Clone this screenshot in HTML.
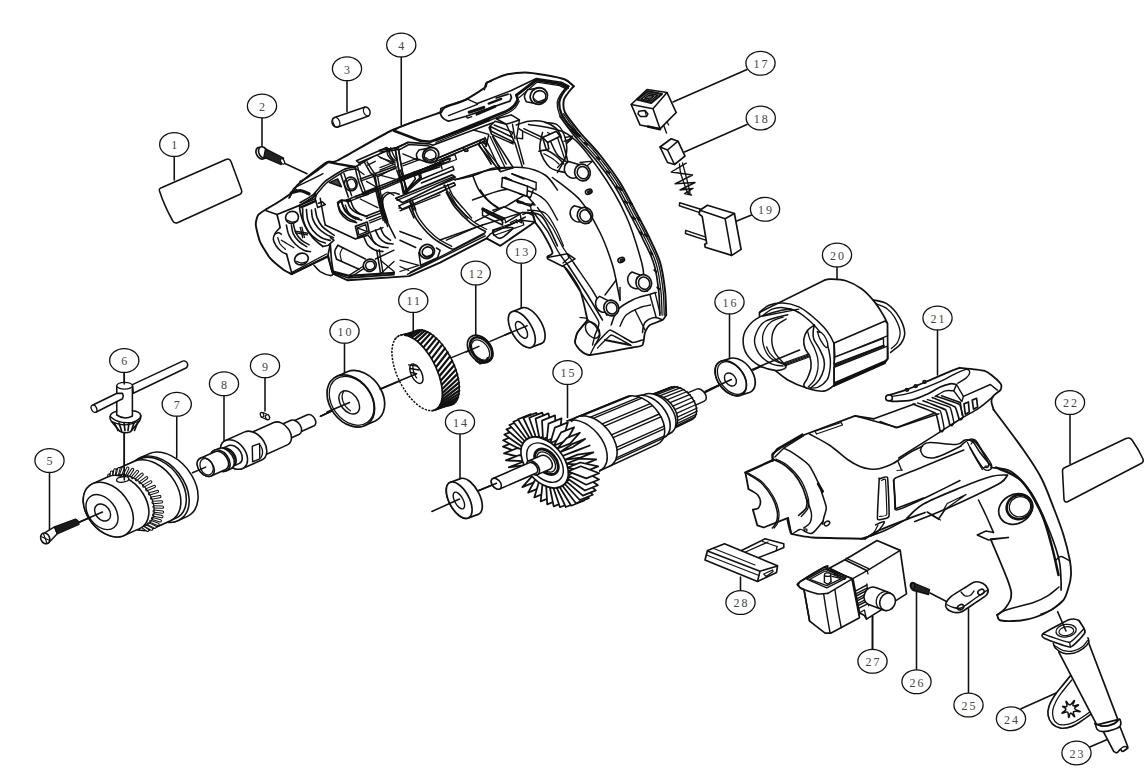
<!DOCTYPE html><html><head><meta charset="utf-8"><title>Exploded view</title>
<style>html,body{margin:0;padding:0;background:#fff}svg{display:block}text{font-family:"Liberation Serif",serif;font-size:12px;fill:#444;stroke:none;letter-spacing:2px}</style></head><body>
<svg width="1148" height="784" viewBox="0 0 1148 784" fill="none" stroke="#111" stroke-linecap="round" stroke-linejoin="round">
<rect x="0" y="0" width="1148" height="784" fill="#fff" stroke="none"/>
<line x1="174.25" y1="156.5" x2="174.25" y2="180" stroke-width="1.56"/>
<line x1="262" y1="118" x2="262" y2="148" stroke-width="1.56"/>
<line x1="347" y1="81" x2="347" y2="111.5" stroke-width="1.56"/>
<line x1="401.25" y1="57" x2="401.25" y2="125" stroke-width="1.56"/>
<line x1="49.5" y1="472.5" x2="49.5" y2="531" stroke-width="1.56"/>
<line x1="124.25" y1="372.5" x2="124.25" y2="383" stroke-width="1.56"/>
<line x1="124.25" y1="432.5" x2="124.25" y2="480" stroke-width="1.56"/>
<line x1="176.75" y1="416" x2="176.75" y2="457.5" stroke-width="1.56"/>
<line x1="224" y1="396" x2="224" y2="446" stroke-width="1.56"/>
<line x1="265" y1="378" x2="265" y2="411" stroke-width="1.56"/>
<line x1="344.5" y1="343" x2="344.5" y2="374" stroke-width="1.56"/>
<line x1="413.25" y1="312" x2="413.25" y2="334" stroke-width="1.56"/>
<line x1="475.75" y1="285" x2="475.75" y2="336" stroke-width="1.56"/>
<line x1="521.25" y1="263" x2="521.25" y2="308" stroke-width="1.56"/>
<line x1="460" y1="434" x2="460" y2="479.5" stroke-width="1.56"/>
<line x1="567.5" y1="384" x2="567.5" y2="417.5" stroke-width="1.56"/>
<line x1="729.5" y1="314" x2="729.5" y2="358.75" stroke-width="1.56"/>
<line x1="747" y1="69.5" x2="673" y2="102" stroke-width="1.56"/>
<line x1="747" y1="124.5" x2="684.5" y2="152" stroke-width="1.56"/>
<line x1="751.5" y1="215" x2="736.25" y2="221.25" stroke-width="1.56"/>
<line x1="837" y1="267" x2="837" y2="278.75" stroke-width="1.56"/>
<line x1="937.5" y1="330" x2="937.5" y2="375" stroke-width="1.56"/>
<line x1="1070" y1="414" x2="1070" y2="463.75" stroke-width="1.56"/>
<line x1="1089.75" y1="747" x2="1107.25" y2="739.5" stroke-width="1.56"/>
<line x1="1021" y1="708.75" x2="1057.25" y2="692.5" stroke-width="1.56"/>
<line x1="968.5" y1="608.75" x2="968.5" y2="693" stroke-width="1.56"/>
<line x1="916.5" y1="591" x2="916.5" y2="670" stroke-width="1.56"/>
<line x1="872.5" y1="616.25" x2="872.5" y2="649" stroke-width="1.56"/>
<line x1="740.5" y1="577" x2="740.5" y2="590.5" stroke-width="1.56"/>
<path d="M162,187.5 L226,159.5 Q229.5,158 231,161.5 L241.5,190 Q242.5,193 239.5,194.5 L178,222.5 Q174,224 172.5,220.5 Q164,205 159.5,191 Q158.5,188.5 162,187.5 Z" stroke-width="1.56" fill="none" />
<path d="M1065,467.5 L1126,438.5 Q1130,437 1132,440 Q1139,450 1143,459 Q1144,462 1141,463.5 L1068,501.5 Q1064.5,503 1064,499.5 L1062.5,471 Q1062.3,468.5 1065,467.5 Z" stroke-width="1.56" fill="none" />
<path d="M334.5,117.5 L365,107 A4.2,5 -20 0 1 368.5,116 L338,127 A4.2,5 -20 0 1 334.5,117.5 Z" stroke-width="1.43" fill="none" />
<ellipse cx="336.3" cy="122.2" rx="3.3" ry="5" transform="rotate(-20 336.3 122.2)" stroke-width="1.3" fill="none"/>
<path d="M365,107 A4.2,5 -20 0 0 368.5,116" stroke-width="1.17" fill="none" />
<ellipse cx="260.6" cy="153.2" rx="4.2" ry="6.2" transform="rotate(-28 260.6 153.2)" stroke-width="1.69" fill="#fff"/>
<ellipse cx="263.2" cy="152.6" rx="4.2" ry="6.2" transform="rotate(-28 263.2 152.6)" stroke-width="1.69" fill="#fff"/>
<path d="M265.5,148.8 L283.6,158.2 L281.2,164.6 L263.8,157.2 Z" stroke-width="1.3" fill="#222" />
<ellipse cx="282.6" cy="161.4" rx="1.7" ry="3.0" transform="rotate(-28 282.6 161.4)" stroke-width="1.17" fill="#fff"/>
<line x1="285" y1="163.5" x2="307" y2="173.75" stroke-width="1.56"/>
<path d="M45,532.6 L54.5,526.8 L57.2,533.8 L48.5,543" stroke-width="1.43" fill="#fff" />
<ellipse cx="45.2" cy="538.4" rx="4.4" ry="5.6" transform="rotate(-24 45.2 538.4)" stroke-width="1.56" fill="#fff"/>
<line x1="41.6" y1="536.8" x2="48.8" y2="540" stroke-width="1.17"/>
<line x1="43.6" y1="534" x2="46.8" y2="542.8" stroke-width="1.17"/>
<path d="M54.5,526.8 L75.5,519 Q79,520.5 79,524.5 L57.2,533.8 Z" stroke-width="1.3" fill="#1a1a1a" />
<line x1="78.5" y1="522.5" x2="102.5" y2="512" stroke-width="1.56"/>
<ellipse cx="913.5" cy="586.5" rx="2.6" ry="4" transform="rotate(-24 913.5 586.5)" stroke-width="2.08" fill="#333"/>
<path d="M915,583.5 L929.5,589.5 L928.5,594.5 L914,590.5 Z" stroke-width="1.3" fill="#222" />
<line x1="930" y1="593" x2="946.5" y2="601.5" stroke-width="1.56"/>
<path d="M263,412.5 L268.5,415 L266.5,419.5 L261,417 Z" stroke-width="1.3" fill="none" />
<ellipse cx="267.5" cy="417.2" rx="2" ry="2.6" transform="rotate(-24 267.5 417.2)" stroke-width="1.3" fill="#fff"/>
<ellipse cx="262" cy="414.8" rx="1.6" ry="2.4" transform="rotate(-24 262 414.8)" stroke-width="1.17" fill="#fff"/>
<path d="M266.6,209.0 L280.0,201.0 L293.8,191.2 L297.5,185.0 L326.2,162.5 L337.5,160.5 L392.5,130.0 L440.0,112.5 L441.2,112.5 L445.0,107.5 L465.0,100.0 L485.0,87.5 L487.5,82.5 L505.0,75.0 L525.0,72.5 L545.0,75.0 L565.0,79.5 L573.8,86.2 L573.8,86.2 L567.5,93.8 L563.8,100.0 L565.0,112.5 L580.0,132.5 L600.0,155.0 L620.0,182.5 L636.0,212.0 L649.0,237.0 L660.0,262.0 L665.0,290.0 L666.2,315.0 L666.2,315.0 L662.5,320.0 L650.0,325.0 L645.0,332.5 L642.5,345.0 L632.5,347.5 L590.0,355.0 L580.0,350.0 L575.0,342.5 L577.5,332.5 L587.5,320.0 L587.5,320.0 L580.0,290.0 L565.0,267.5 L547.5,257.5 L552.5,252.5 L542.5,232.5 L534.9,222.0 L528.0,212.6 L533.0,215.0 L534.9,222.0 L500.4,245.8 L486.6,238.3 L440.0,262.6 L409.2,276.1 L347.8,280.3 L332.9,273.6 L327.9,256.5 L291.4,274.1 L291.4,274.1 L283.2,269.5 L269.9,257.9 L259.9,241.3 L255.8,224.7 L258.3,214.8 L266.6,209.0 Z" fill="#fff" stroke="none"/>
<path d="M291.4,274.1 C290.6,273.6 285.3,271.1 283.2,269.5 C281.1,267.9 272.2,260.7 269.9,257.9 C267.6,255.1 261.3,244.6 259.9,241.3 C258.5,238.0 256.0,227.3 255.8,224.7 C255.6,222.0 257.2,216.4 258.3,214.8 C259.4,213.2 265.8,209.6 266.6,209.0 C267.4,208.4 265.3,209.8 266.6,209.0 C267.9,208.2 277.3,202.8 280.0,201.0 C282.7,199.2 292.0,192.8 293.8,191.2 C295.5,189.7 294.2,187.9 297.5,185.0 C300.8,182.1 322.2,164.9 326.2,162.5 C330.2,160.1 330.9,163.8 337.5,160.5 C344.1,157.2 382.2,134.8 392.5,130.0 C402.8,125.2 435.2,114.2 440.0,112.5" stroke-width="1.95" fill="none" />
<path d="M441.2,112.5 C441.7,111.9 442.2,109.0 445.0,107.5 C447.8,106.0 460.3,102.3 465.0,100.0 C469.7,97.7 482.4,89.5 485.0,87.5 C487.6,85.5 485.2,84.0 487.5,82.5 C489.8,81.0 500.6,76.2 505.0,75.0 C509.4,73.8 520.3,72.5 525.0,72.5 C529.7,72.5 540.3,74.2 545.0,75.0 C549.7,75.8 561.6,78.2 565.0,79.5 C568.4,80.8 572.7,85.5 573.8,86.2" stroke-width="1.95" fill="none" />
<path d="M573.8,86.2 C572.9,87.2 568.8,91.9 567.5,93.8 C566.2,95.6 564.1,97.5 563.8,100.0 C563.4,102.5 562.8,108.2 565.0,112.5 C567.2,116.8 575.3,126.8 580.0,132.5 C584.7,138.2 594.7,148.3 600.0,155.0 C605.3,161.7 615.2,174.9 620.0,182.5 C624.8,190.1 632.1,204.7 636.0,212.0 C639.9,219.3 645.8,230.3 649.0,237.0 C652.2,243.7 657.9,254.9 660.0,262.0 C662.1,269.1 664.2,282.9 665.0,290.0 C665.8,297.1 666.1,311.7 666.2,315.0" stroke-width="1.95" fill="none" />
<path d="M666.2,315.0 C665.9,315.5 664.1,319.0 662.5,320.0 C660.9,321.0 651.8,323.8 650.0,325.0 C648.2,326.2 645.8,330.5 645.0,332.5 C644.2,334.5 643.8,343.5 642.5,345.0 C641.2,346.5 637.8,346.5 632.5,347.5 C627.2,348.5 595.2,354.8 590.0,355.0 C584.8,355.2 581.5,351.2 580.0,350.0 C578.5,348.8 575.2,344.2 575.0,342.5 C574.8,340.8 576.2,334.8 577.5,332.5 C578.8,330.2 586.5,321.2 587.5,320.0" stroke-width="1.82" fill="none" />
<path d="M587.5,320.0 C586.6,316.5 582.6,296.1 580.0,290.0 C577.4,283.9 568.8,271.3 565.0,267.5 C561.2,263.7 549.0,259.2 547.5,257.5 C546.0,255.8 553.1,255.4 552.5,252.5 C551.9,249.6 544.6,236.1 542.5,232.5 C540.4,228.9 535.8,223.2 534.9,222.0" stroke-width="1.82" fill="none" />
<path d="M528.0,212.6 L533.0,215.0 L534.9,222.0 L500.4,245.8 L486.6,238.3 L440.0,262.6 L409.2,276.1 L347.8,280.3 L332.9,273.6 L327.9,256.5 L291.4,274.1" stroke-width="1.95" fill="none" />
<path d="M291.4,192.8 C292.9,192.4 297.2,190.5 300.2,190.6 C303.1,190.8 307.5,193.3 309.0,193.8" stroke-width="3.38" fill="none" />
<path d="M288.9,198.2 C289.5,197.2 291.4,193.9 292.6,192.5 C293.9,191.1 296.0,190.2 296.7,189.8" stroke-width="1.56" fill="none" />
<path d="M289.8,197.4 C290.2,196.4 292.3,189.8 293.9,188.2 C295.6,186.7 303.5,183.4 306.4,181.9 C309.3,180.5 321.3,174.5 322.9,173.6" stroke-width="1.43" fill="none" />
<path d="M266.3,210.7 L277.0,214.5 L300.2,205.1 L312.7,197.5 L315.2,193.8" stroke-width="1.69" fill="none" />
<path d="M277.0,214.5 C277.1,215.0 278.9,221.8 279.1,222.6 C279.3,223.5 280.0,227.3 280.1,227.6" stroke-width="1.69" fill="none" />
<path d="M280.1,227.6 C279.3,228.6 276.2,231.4 275.1,233.3 C274.0,235.2 273.2,237.0 273.3,238.9 C273.4,240.9 274.4,243.1 275.7,245.2 C277.1,247.3 279.5,250.0 281.4,251.5 C283.2,253.0 285.8,253.8 286.6,254.2" stroke-width="1.56" fill="none" />
<path d="M286.6,254.2 L292.0,274.1" stroke-width="1.69" fill="none" />
<path d="M292.0,274.1 L327.8,255.9 L330.3,244.2" stroke-width="1.69" fill="none" />
<path d="M292.4,272.1 L326.5,254.0" stroke-width="1.3" fill="none" />
<path d="M300.2,205.1 C300.1,205.7 299.5,207.0 299.7,208.8 C299.9,210.7 300.5,213.4 301.4,216.4 C302.3,219.3 303.3,222.8 305.2,226.4 C307.1,229.9 309.8,234.3 312.7,237.7 C315.6,241.0 321.1,245.0 322.8,246.5" stroke-width="1.69" fill="none" />
<path d="M322.8,246.5 L328.5,245.2 L334.0,240.2 L330.3,237.7" stroke-width="1.56" fill="none" />
<ellipse cx="292.0220772704466" cy="217.36327145007527" rx="6.5" ry="6.0" transform="rotate(-20 292.0220772704466 217.36327145007527)" stroke-width="1.69" fill="#fff"/>
<path d="M287.4,220.1 C288.2,220.5 290.5,222.0 292.0,222.1 C293.6,222.3 295.9,221.3 296.7,221.1" stroke-width="1.3" fill="none" />
<ellipse cx="301.4300050175615" cy="259.00903161063724" rx="6.9" ry="5.7" transform="rotate(-20 301.4300050175615 259.00903161063724)" stroke-width="1.69" fill="#fff"/>
<path d="M296.7,261.3 C297.4,261.6 299.6,262.9 301.2,263.0 C302.8,263.1 305.4,262.0 306.2,261.8" stroke-width="1.3" fill="none" />
<path d="M302.7,208.8 C302.8,210.7 302.4,216.4 303.3,220.1 C304.3,223.9 305.9,228.1 308.3,231.4 C310.7,234.8 314.9,238.3 317.7,240.2 C320.6,242.1 324.0,242.5 325.3,243.0" stroke-width="1.62" fill="none" />
<path d="M306.4,209.5 C306.7,211.2 306.7,216.7 307.7,220.1 C308.7,223.6 310.4,227.2 312.7,230.2 C315.0,233.1 318.6,236.0 321.5,237.7 C324.4,239.4 328.8,240.0 330.3,240.4" stroke-width="1.62" fill="none" />
<path d="M311.5,210.1 C311.7,211.6 311.7,215.9 312.7,218.9 C313.8,221.8 315.6,225.1 317.7,227.6 C319.8,230.2 322.7,232.2 325.3,233.9 C327.9,235.6 332.1,237.1 333.4,237.7" stroke-width="1.62" fill="none" />
<path d="M315.2,208.8 C315.5,210.3 316.0,214.7 317.1,217.6 C318.3,220.5 319.9,223.9 322.1,226.4 C324.3,228.9 328.3,231.2 330.3,232.7 C332.3,234.2 333.6,235.0 334.3,235.4" stroke-width="1.62" fill="none" />
<path d="M286.4,225.1 C286.8,226.8 287.4,232.0 288.9,235.2 C290.3,238.3 292.6,241.4 295.2,244.0 C297.7,246.5 301.4,248.9 303.9,250.2 C306.5,251.5 309.4,251.5 310.5,251.7" stroke-width="1.56" fill="none" />
<path d="M291.4,225.1 C291.7,226.6 292.0,231.2 293.3,233.9 C294.5,236.6 296.7,239.3 298.9,241.4 C301.2,243.6 305.4,245.8 306.7,246.7" stroke-width="1.56" fill="none" />
<path d="M293.4,223.9 C293.8,225.3 294.4,229.9 295.8,232.7 C297.1,235.4 299.2,238.2 301.4,240.2 C303.6,242.2 307.7,244.0 309.0,244.7" stroke-width="1.56" fill="none" />
<path d="M295.2,231.2 L307.7,233.2" stroke-width="1.43" fill="none" />
<path d="M295.4,232.9 L307.5,234.9" stroke-width="1.3" fill="none" />
<path d="M300.2,227.4 L302.7,237.7" stroke-width="1.43" fill="none" />
<path d="M301.9,227.1 L304.4,237.4" stroke-width="1.3" fill="none" />
<path d="M274.6,234.2 C275.3,233.9 277.5,232.7 278.6,232.7 C279.7,232.7 280.9,233.9 281.4,234.2" stroke-width="1.43" fill="none" />
<path d="M277.8,237.7 C278.2,238.7 278.9,242.0 280.1,244.0 C281.4,245.9 284.5,248.3 285.4,249.2" stroke-width="1.3" fill="none" />
<path d="M281.4,240.2 C282.4,240.8 285.5,242.7 287.6,244.0 C289.7,245.2 292.9,247.1 293.9,247.7" stroke-width="1.3" fill="none" />
<path d="M315.2,198.8 L317.7,207.6 L325.3,204.6 L322.3,201.8 L318.5,203.3" stroke-width="1.56" fill="none" />
<path d="M300.2,205.1 L315.2,198.8 L316.5,194.5" stroke-width="1.56" fill="none" />
<path d="M301.4,207.1 L315.2,201.1" stroke-width="2.6" fill="none" />
<path d="M320.2,198.2 C320.4,199.1 322.4,210.8 322.8,212.6 C323.1,214.4 325.1,224.3 325.3,225.1" stroke-width="1.56" fill="none" />
<path d="M325.3,225.1 L355.4,238.9 L367.9,235.2" stroke-width="1.69" fill="none" />
<path d="M337.8,203.8 C338.2,205.3 338.6,209.9 340.3,212.6 C342.0,215.3 345.1,218.5 347.8,220.1 C350.6,221.8 355.2,222.2 356.6,222.6" stroke-width="1.62" fill="none" />
<path d="M341.6,201.6 C342.2,203.2 343.5,208.7 345.3,211.3 C347.2,214.0 350.1,216.2 352.9,217.6 C355.6,219.1 360.2,219.7 361.6,220.1" stroke-width="1.62" fill="none" />
<path d="M350.4,200.1 C351.0,201.5 352.4,206.5 354.1,208.8 C355.8,211.2 358.3,212.8 360.4,214.1 C362.5,215.4 365.8,216.0 366.9,216.4" stroke-width="1.62" fill="none" />
<path d="M337.8,203.8 C338.6,203.3 340.7,201.4 342.8,200.8 C344.9,200.2 349.1,200.2 350.4,200.1" stroke-width="1.62" fill="none" />
<path d="M345.3,205.1 C346.0,206.5 347.4,211.6 349.1,213.9 C350.8,216.2 354.3,218.0 355.4,218.9" stroke-width="1.3" fill="none" />
<path d="M346.6,200.1 L375.4,188.8" stroke-width="1.56" fill="none" />
<path d="M347.3,202.1 L376.2,190.8" stroke-width="1.43" fill="none" />
<path d="M375.4,188.8 C375.8,190.2 379.9,208.0 380.5,210.1 C381.0,212.2 383.0,219.7 383.2,220.4" stroke-width="1.56" fill="none" />
<path d="M377.9,188.0 C378.3,189.4 382.4,207.5 383.0,209.6 C383.5,211.7 385.5,219.0 385.7,219.6" stroke-width="1.43" fill="none" />
<path d="M355.4,226.4 L367.3,222.0 L369.2,232.7 L357.9,237.1 Z" stroke-width="1.69" fill="none" />
<path d="M357.4,227.9 L365.7,224.6 L367.2,231.7 L358.9,234.9 Z" stroke-width="1.3" fill="none" />
<path d="M357.4,227.9 L367.2,231.7" stroke-width="1.3" fill="none" />
<path d="M369.2,220.8 L380.5,216.4" stroke-width="1.43" fill="none" />
<path d="M369.9,222.9 L381.2,218.4" stroke-width="1.3" fill="none" />
<path d="M369.2,232.7 L383.0,227.6" stroke-width="1.43" fill="none" />
<path d="M367.9,235.2 L375.4,244.0" stroke-width="1.43" fill="none" />
<path d="M364.1,237.7 C364.8,238.9 366.0,243.1 367.9,245.2 C369.8,247.3 372.9,249.2 375.4,250.2 C377.9,251.3 381.7,251.3 383.0,251.5" stroke-width="1.62" fill="none" />
<path d="M370.4,233.9 C370.9,235.2 371.9,239.4 373.6,241.4 C375.2,243.5 378.1,245.4 380.5,246.5 C382.9,247.5 386.7,247.5 388.0,247.7" stroke-width="1.62" fill="none" />
<path d="M375.4,230.2 C376.1,231.4 377.5,235.6 379.2,237.7 C380.9,239.8 383.2,241.7 385.5,242.7 C387.8,243.7 391.7,243.7 393.0,244.0" stroke-width="1.62" fill="none" />
<path d="M380.5,227.6 C381.1,228.9 382.5,233.1 384.2,235.2 C385.9,237.3 389.4,239.4 390.5,240.2" stroke-width="1.62" fill="none" />
<path d="M337.8,245.2 L365.4,259.0" stroke-width="1.56" fill="none" />
<path d="M336.6,259.3 L359.1,269.3" stroke-width="1.56" fill="none" />
<path d="M337.8,245.2 C337.3,246.3 335.0,249.1 334.8,251.5 C334.6,253.8 336.3,258.0 336.6,259.3" stroke-width="1.56" fill="none" />
<path d="M342.8,247.7 C342.4,248.7 340.3,251.5 340.1,253.7 C339.9,256.0 341.3,259.8 341.6,261.0" stroke-width="1.17" fill="none" />
<ellipse cx="369.79427997992974" cy="265.28098344204716" rx="6.6" ry="6.0" transform="rotate(-20 369.79427997992974 265.28098344204716)" stroke-width="1.69" fill="#fff"/>
<ellipse cx="370.17059708981435" cy="265.53186151530355" rx="4.6" ry="4.2" transform="rotate(-20 370.17059708981435 265.53186151530355)" stroke-width="1.56" fill="#fff"/>
<path d="M375.4,259.0 L394.0,250.2" stroke-width="1.43" fill="none" />
<path d="M376.7,250.2 L380.5,272.8" stroke-width="1.56" fill="none" />
<path d="M379.2,249.7 L383.0,272.8" stroke-width="1.43" fill="none" />
<path d="M380.5,260.3 L394.0,271.6" stroke-width="1.3" fill="none" />
<path d="M381.7,272.8 L394.0,261.5" stroke-width="1.3" fill="none" />
<path d="M349.1,275.3 L362.9,266.5" stroke-width="1.43" fill="none" />
<path d="M350.4,277.2 L364.1,268.4" stroke-width="1.3" fill="none" />
<path d="M330.3,244.2 C330.4,245.3 331.3,258.4 331.5,260.3 C331.7,262.2 333.3,272.0 333.4,272.8" stroke-width="1.69" fill="none" />
<path d="M328.4,255.2 C328.5,255.9 330.1,264.2 330.3,265.3 C330.5,266.4 331.7,271.1 331.8,271.6" stroke-width="1.3" fill="none" />
<path d="M333.4,272.8 L347.8,277.8 L394.0,274.7" stroke-width="1.69" fill="none" />
<path d="M332.2,271.3 L349.1,275.9 L394.0,272.8" stroke-width="2.34" fill="none" />
<path d="M314.0,265.3 C315.0,266.3 317.5,269.8 320.2,271.6 C323.0,273.3 328.0,275.3 330.3,275.6 C332.5,275.8 333.2,273.5 333.8,273.1" stroke-width="1.56" fill="none" />
<path d="M373.5,175.0 C374.0,176.9 380.0,199.7 381.0,203.2 C381.9,206.6 387.2,224.8 387.6,226.4" stroke-width="1.56" fill="none" />
<path d="M396.7,170.0 C397.1,171.1 401.8,184.3 402.5,186.6 C403.3,188.8 407.5,202.8 407.8,204.0" stroke-width="1.56" fill="none" />
<path d="M400.2,170.0 C400.6,171.1 405.1,183.5 405.8,185.8 C406.6,188.0 410.8,202.0 411.2,203.2" stroke-width="1.43" fill="none" />
<path d="M399.2,177.5 L440.0,163.4" stroke-width="1.56" fill="none" />
<path d="M400.0,180.3 L440.0,166.7" stroke-width="1.43" fill="none" />
<path d="M399.2,208.1 L440.0,192.4" stroke-width="1.56" fill="none" />
<path d="M400.0,210.8 L440.0,194.9" stroke-width="1.43" fill="none" />
<path d="M300.0,181.4 C300.8,181.0 305.6,178.8 307.5,177.6 C309.4,176.4 316.7,171.0 318.8,169.5 C320.9,167.9 327.8,162.7 328.9,162.0" stroke-width="1.56" fill="none" />
<path d="M328.9,162.0 L337.6,163.8 L355.2,167.0" stroke-width="2.34" fill="none" />
<path d="M300.0,202.7 C301.3,202.0 310.0,197.3 312.5,195.2 C315.1,193.1 322.0,184.0 325.1,181.4 C328.2,178.8 340.9,170.9 343.9,169.5 C346.9,168.0 354.1,167.2 355.2,167.0" stroke-width="1.69" fill="none" />
<path d="M300.0,205.2 C301.4,204.4 311.2,199.3 313.8,197.1 C316.4,194.9 323.3,185.8 326.3,183.3 C329.4,180.7 341.6,172.8 344.5,171.4 C347.5,169.9 354.7,169.1 355.8,168.9" stroke-width="1.43" fill="none" />
<path d="M355.2,167.0 L386.6,148.2 L390.3,149.4 L396.6,147.5 L407.9,142.5" stroke-width="1.69" fill="none" />
<path d="M356.4,160.7 L386.6,147.5 L389.3,149.8 L359.0,162.8 Z" stroke-width="1.56" fill="#fff" />
<path d="M359.0,162.8 L360.2,165.1" stroke-width="1.3" fill="none" />
<ellipse cx="350.8028098344205" cy="183.90366281986954" rx="6.3" ry="6.9" transform="rotate(-20 350.8028098344205 183.90366281986954)" stroke-width="1.69" fill="#fff"/>
<ellipse cx="351.4300050175615" cy="184.15454089312595" rx="4.4" ry="5.0" transform="rotate(-20 351.4300050175615 184.15454089312595)" stroke-width="1.43" fill="#fff"/>
<path d="M340.8,174.5 L348.3,197.1" stroke-width="1.56" fill="none" />
<path d="M343.9,173.2 L351.7,195.8" stroke-width="1.43" fill="none" />
<path d="M355.2,167.6 C355.4,168.6 358.5,181.0 359.0,182.6 C359.5,184.3 362.5,192.0 362.7,192.7" stroke-width="1.56" fill="none" />
<path d="M357.7,167.0 C358.0,168.0 361.2,180.4 361.7,182.0 C362.2,183.7 365.0,190.8 365.2,191.4" stroke-width="1.43" fill="none" />
<path d="M364.6,162.6 C365.0,163.2 369.5,171.6 370.2,172.6 C371.0,173.6 374.6,175.5 375.3,177.6 C375.9,179.8 379.6,202.2 380.3,205.2 C380.9,208.2 385.0,221.6 385.3,222.8" stroke-width="1.56" fill="none" />
<path d="M367.1,162.0 C367.5,162.6 372.7,170.9 373.4,172.0 C374.1,173.0 377.1,175.4 377.8,177.6 C378.4,179.8 382.1,202.3 382.8,205.2 C383.5,208.2 387.5,220.4 387.8,221.5" stroke-width="1.43" fill="none" />
<path d="M395.3,148.8 C395.6,150.3 398.5,168.4 399.1,171.4 C399.7,174.3 403.8,191.3 404.1,192.7" stroke-width="1.56" fill="none" />
<path d="M398.5,148.2 C398.7,149.7 401.7,167.8 402.2,170.7 C402.8,173.7 406.3,190.6 406.6,192.1" stroke-width="1.43" fill="none" />
<path d="M386.6,148.2 C386.8,149.3 386.8,152.9 387.8,155.1 C388.9,157.2 392.0,160.3 392.8,161.3" stroke-width="1.43" fill="none" />
<path d="M389.3,149.8 C389.5,150.8 389.6,153.9 390.6,155.7 C391.6,157.5 394.5,159.9 395.3,160.7" stroke-width="1.3" fill="none" />
<path d="M360.2,178.9 L395.3,166.3" stroke-width="1.56" fill="none" />
<path d="M361.0,180.9 L396.1,168.3" stroke-width="1.43" fill="none" />
<path d="M402.2,163.8 L425.4,155.1" stroke-width="1.43" fill="none" />
<path d="M402.9,165.8 L426.1,157.1" stroke-width="1.3" fill="none" />
<path d="M362.7,192.7 L397.8,178.9 L420.4,170.1 L444.0,160.1" stroke-width="1.56" fill="none" />
<path d="M363.3,194.7 L398.5,180.9 L421.0,172.1 L444.0,162.3" stroke-width="1.43" fill="none" />
<path d="M355.2,196.4 L367.7,192.7" stroke-width="1.43" fill="none" />
<path d="M355.8,198.2 L368.4,194.4" stroke-width="1.3" fill="none" />
<path d="M365.2,216.5 L381.5,210.2" stroke-width="1.56" fill="none" />
<path d="M366.5,218.5 L382.8,212.3" stroke-width="1.43" fill="none" />
<path d="M356.4,168.9 L364.0,174.5" stroke-width="1.3" fill="none" />
<path d="M377.8,155.7 L395.3,165.1" stroke-width="1.3" fill="none" />
<path d="M366.5,181.4 L378.4,188.3" stroke-width="1.3" fill="none" />
<path d="M360.2,199.0 L377.8,207.7" stroke-width="1.3" fill="none" />
<path d="M378.4,176.4 L396.6,167.0" stroke-width="1.3" fill="none" />
<path d="M367.7,165.1 L375.3,161.3" stroke-width="1.3" fill="none" />
<path d="M402.9,153.8 L417.9,160.1" stroke-width="1.3" fill="none" />
<path d="M404.1,177.6 L415.4,171.4" stroke-width="1.3" fill="none" />
<path d="M329.5,182.6 L341.4,186.7 L337.6,178.9 Z" stroke-width="1.56" fill="#444" />
<path d="M404.1,192.7 L420.4,177.6 L417.9,172.0 L413.5,173.9 L415.4,178.9 L406.6,190.2" stroke-width="1.56" fill="none" />
<path d="M337.6,202.7 C338.0,204.0 338.5,207.7 340.1,210.2 C341.8,212.8 345.2,215.9 347.7,217.8 C350.2,219.7 353.9,220.9 355.2,221.5" stroke-width="1.62" fill="none" />
<path d="M341.4,200.2 C341.8,201.5 342.2,205.2 343.9,207.7 C345.6,210.2 348.9,213.5 351.4,215.3 C353.9,217.1 357.7,218.0 359.0,218.5" stroke-width="1.62" fill="none" />
<path d="M347.7,201.5 C348.1,202.5 348.7,205.9 350.2,207.7 C351.6,209.6 354.1,211.5 356.4,212.8 C358.7,214.0 362.7,214.8 364.0,215.3" stroke-width="1.62" fill="none" />
<path d="M337.6,202.7 C338.3,202.3 339.7,200.2 341.4,200.0 C343.1,199.8 346.6,201.2 347.7,201.5" stroke-width="1.62" fill="none" />
<path d="M383.4,210.2 C383.3,208.6 382.3,202.8 382.8,200.2 C383.3,197.6 384.9,195.8 386.6,194.6 C388.2,193.3 390.7,192.7 392.8,192.7 C394.9,192.6 398.1,193.9 399.1,194.2" stroke-width="1.56" fill="none" />
<path d="M383.4,210.2 C384.1,212.3 385.8,218.2 387.8,222.8 C389.8,227.4 394.1,235.4 395.3,238.0" stroke-width="1.56" fill="none" />
<path d="M393.8,130.7 L400.1,126.9 L417.6,120.0" stroke-width="1.56" fill="none" />
<path d="M394.0,130.8 L420.4,140.8" stroke-width="2.6" fill="none" />
<path d="M420.4,140.8 L430.2,141.7 L489.1,120.0" stroke-width="2.6" fill="none" />
<path d="M380.0,150.1 L396.3,148.2 L408.2,142.3 L428.9,143.8 L432.7,145.3 L492.9,122.8" stroke-width="1.69" fill="none" />
<path d="M396.3,149.1 L398.8,150.1 L408.9,144.5 L428.3,145.8 L431.7,147.1" stroke-width="1.43" fill="none" />
<path d="M380.0,152.0 L396.1,150.1" stroke-width="1.3" fill="none" />
<path d="M430.8,147.8 L418.9,150.1 L418.9,150.1 C418.5,150.8 416.6,153.0 416.4,154.5 C416.2,156.0 417.4,158.2 417.6,158.9 L426.4,162.0" stroke-width="1.56" fill="#fff" />
<ellipse cx="430.8028098344205" cy="155.12293025589562" rx="8.2" ry="7.5" transform="rotate(-25 430.8028098344205 155.12293025589562)" stroke-width="1.82" fill="#fff"/>
<ellipse cx="430.1756146512795" cy="155.49924736578023" rx="6.0" ry="5.6" transform="rotate(-25 430.1756146512795 155.49924736578023)" stroke-width="1.56" fill="#fff"/>
<path d="M425.8,157.6 C426.4,158.0 428.1,159.8 429.5,159.9 C430.9,160.0 433.4,158.6 434.2,158.4" stroke-width="1.3" fill="none" />
<path d="M395.1,148.9 C395.3,150.3 398.3,167.2 398.8,170.2 C399.4,173.1 402.9,191.8 403.2,193.4" stroke-width="1.56" fill="none" />
<path d="M398.2,148.2 C398.4,149.6 401.4,166.6 402.0,169.5 C402.5,172.5 406.0,190.6 406.3,192.1" stroke-width="1.43" fill="none" />
<path d="M387.5,148.2 C387.9,149.4 389.0,152.9 390.0,155.1 C391.1,157.3 393.2,160.3 393.8,161.4" stroke-width="1.43" fill="none" />
<path d="M390.7,147.6 C391.1,148.7 392.1,152.3 393.2,154.5 C394.2,156.7 396.3,159.7 396.9,160.8" stroke-width="1.3" fill="none" />
<path d="M380.0,188.4 L449.0,158.3" stroke-width="1.56" fill="none" />
<path d="M380.0,190.2 L439.0,165.2" stroke-width="1.43" fill="none" />
<path d="M380.0,170.2 L395.1,163.9" stroke-width="1.43" fill="none" />
<path d="M380.0,167.7 L394.4,162.0" stroke-width="1.3" fill="none" />
<path d="M380.0,157.6 L395.1,162.6" stroke-width="1.3" fill="none" />
<path d="M380.0,175.2 L398.8,180.2" stroke-width="1.3" fill="none" />
<path d="M439.0,157.6 L485.4,138.2" stroke-width="1.56" fill="none" />
<path d="M440.2,159.9 L486.6,140.7" stroke-width="1.43" fill="none" />
<path d="M464.0,149.5 L465.3,151.6 L467.8,151.1 L467.6,148.9" stroke-width="1.3" fill="none" />
<path d="M482.9,142.6 L486.6,145.1 L486.9,140.1" stroke-width="1.43" fill="none" />
<path d="M478.6,145.1 L480.4,141.1" stroke-width="1.3" fill="none" />
<path d="M412.6,173.3 L450.2,158.3 L449.7,160.9 L421.4,172.7" stroke-width="1.56" fill="none" />
<path d="M418.9,180.2 L452.8,166.4 L454.0,169.7 L421.4,183.0" stroke-width="1.56" fill="none" />
<path d="M435.2,162.6 L436.4,167.7" stroke-width="1.43" fill="none" />
<path d="M440.2,161.4 L442.1,168.9" stroke-width="1.43" fill="none" />
<path d="M413.2,173.9 L420.1,171.4 L421.4,179.0 L405.1,193.4" stroke-width="1.56" fill="none" />
<path d="M415.8,175.2 L418.9,174.2 L419.6,178.5 L410.1,187.7" stroke-width="1.3" fill="none" />
<path d="M395.7,198.4 L452.1,174.9 L455.3,177.1 L402.6,202.8 Z" stroke-width="1.69" fill="#fff" />
<path d="M396.9,200.3 L453.4,176.7" stroke-width="1.3" fill="none" />
<path d="M398.8,205.9 L454.0,182.7 L455.3,185.2 L402.0,209.1 Z" stroke-width="1.56" fill="#fff" />
<path d="M410.1,200.3 L413.9,210.3" stroke-width="1.43" fill="none" />
<path d="M412.0,199.8 L415.8,209.8" stroke-width="1.3" fill="none" />
<path d="M444.0,185.2 L446.5,190.2" stroke-width="1.43" fill="none" />
<path d="M444.6,185.2 C445.5,187.3 447.6,193.6 450.2,197.8 C452.9,202.0 457.4,207.0 460.3,210.3 C463.2,213.7 466.6,216.7 467.8,218.0" stroke-width="1.69" fill="none" />
<path d="M447.7,184.6 C448.7,186.6 450.8,192.5 453.4,196.5 C456.0,200.5 460.4,204.9 463.4,208.4 C466.4,212.0 470.2,216.4 471.6,218.0" stroke-width="1.43" fill="none" />
<path d="M472.8,175.8 C473.9,178.2 476.2,185.8 479.1,190.2 C482.0,194.7 487.2,199.8 490.4,202.8 C493.6,205.8 496.9,207.2 498.2,208.1" stroke-width="1.56" fill="none" />
<path d="M455.3,179.6 C458.2,179.0 466.6,177.7 472.8,175.8 C479.1,173.9 486.2,169.7 492.9,168.3 C499.6,166.9 509.6,167.8 513.0,167.7" stroke-width="1.56" fill="none" />
<path d="M408.9,206.6 L413.9,218.0" stroke-width="1.56" fill="none" />
<path d="M382.5,195.3 C382.3,196.9 381.0,201.5 381.3,205.3 C381.5,209.1 383.3,215.9 383.8,218.0" stroke-width="1.43" fill="none" />
<path d="M382.5,195.3 C383.3,194.7 385.6,192.1 387.5,192.1 C389.4,192.1 392.8,194.7 393.8,195.3" stroke-width="1.43" fill="none" />
<path d="M489.1,127.5 L510.5,136.3 L513.0,143.8 L491.6,134.4 L489.1,127.5" stroke-width="1.56" fill="none" />
<path d="M494.1,125.0 L513.0,132.5 L510.5,136.3" stroke-width="1.43" fill="none" />
<path d="M479.1,145.7 L500.4,171.7 L513.2,167.7 L492.9,136.1" stroke-width="1.56" fill="none" />
<path d="M484.1,147.0 L500.4,167.7" stroke-width="1.3" fill="none" />
<path d="M502.3,178.3 L524.0,185.2" stroke-width="1.69" fill="none" />
<path d="M503.6,180.2 L524.0,187.7" stroke-width="1.3" fill="none" />
<path d="M511.7,173.9 L524.0,179.0" stroke-width="1.56" fill="none" />
<path d="M502.3,178.3 L505.4,177.1 L511.7,180.2" stroke-width="1.3" fill="none" />
<path d="M482.9,209.1 L497.9,218.0" stroke-width="3.38" fill="none" />
<path d="M492.9,210.3 L505.4,206.6 L524.0,195.3" stroke-width="1.56" fill="none" />
<path d="M516.7,200.3 L524.0,202.8" stroke-width="1.43" fill="none" />
<path d="M572.5,129.5 L574.5,131.0" stroke-width="2.34" fill="none" />
<path d="M585.0,143.0 L587.0,144.5" stroke-width="2.34" fill="none" />
<path d="M597.0,157.5 L599.0,159.0" stroke-width="2.34" fill="none" />
<path d="M607.0,171.5 L609.0,173.0" stroke-width="2.34" fill="none" />
<path d="M616.5,186.5 L618.5,188.0" stroke-width="2.34" fill="none" />
<path d="M625.0,201.5 L627.0,203.0" stroke-width="2.34" fill="none" />
<path d="M633.0,217.5 L635.0,219.0" stroke-width="2.34" fill="none" />
<path d="M640.0,232.5 L642.0,234.0" stroke-width="2.34" fill="none" />
<path d="M578.7,164.5 L568.7,161.5 A7.6,8.4 -25 0 0 576.3,177.5 L586.3,180.5" stroke-width="1.56" fill="#fff" />
<ellipse cx="582.5" cy="172.5" rx="7.728000000000001" ry="8.4" transform="rotate(-25 582.5 172.5)" stroke-width="1.69" fill="#fff"/>
<ellipse cx="582.9" cy="172.7" rx="5.5440000000000005" ry="6.216" transform="rotate(-25 582.9 172.7)" stroke-width="1.56" fill="#fff"/>
<path d="M581.3,207.7 L574.3,205.7 A7.4,8.2 -25 0 0 581.7,221.3 L588.7,223.3" stroke-width="1.56" fill="#fff" />
<ellipse cx="585" cy="215.5" rx="7.544" ry="8.2" transform="rotate(-25 585 215.5)" stroke-width="1.69" fill="#fff"/>
<ellipse cx="585.4" cy="215.7" rx="5.412" ry="6.068" transform="rotate(-25 585.4 215.7)" stroke-width="1.56" fill="#fff"/>
<ellipse cx="588.75" cy="191.75" rx="3.4" ry="2.4" transform="rotate(-20 588.75 191.75)" stroke-width="1.56" fill="none"/>
<ellipse cx="589.3" cy="192" rx="1.8" ry="1.2" transform="rotate(-20 589.3 192)" stroke-width="1.3" fill="#333"/>
<path d="M455.0,180.0 C460.8,178.3 478.8,172.1 490.0,170.0 C501.2,167.9 513.3,166.7 522.5,167.5 C531.7,168.3 539.2,171.2 545.0,175.0 C550.8,178.8 555.4,187.5 557.5,190.0" stroke-width="1.56" fill="none" />
<path d="M472.5,200.0 C477.5,198.3 493.8,191.7 502.5,190.0 C511.2,188.3 517.9,188.3 525.0,190.0 C532.1,191.7 539.6,195.0 545.0,200.0 C550.4,205.0 555.4,216.7 557.5,220.0" stroke-width="1.43" fill="none" />
<path d="M545.0,122.5 C547.1,122.9 554.2,122.5 557.5,125.0 C560.8,127.5 563.5,132.5 565.0,137.5 C566.5,142.5 567.5,149.2 566.2,155.0 C565.0,160.8 559.0,169.6 557.5,172.5" stroke-width="1.43" fill="none" />
<path d="M502.5,177.5 L527.5,186.2 L527.0,196.2 L501.5,187.0 Z" stroke-width="1.56" fill="#fff" />
<path d="M512.5,173.8 L536.2,182.5 L536.0,190.0 L527.5,186.2" stroke-width="1.43" fill="none" />
<path d="M482.5,210.0 L502.5,220.0 L502.5,225.0 L482.5,215.5 Z" stroke-width="1.43" fill="#fff" />
<path d="M542.5,132.5 C542.1,135.4 538.8,144.2 540.0,150.0 C541.2,155.8 545.8,163.8 550.0,167.5 C554.2,171.2 562.5,171.7 565.0,172.5" stroke-width="1.56" fill="none" />
<path d="M550.0,140.0 C551.2,142.5 554.6,151.2 557.5,155.0 C560.4,158.8 565.8,161.2 567.5,162.5" stroke-width="1.43" fill="none" />
<path d="M547.5,132.5 L557.5,137.5 L565.0,160.0 L557.5,167.5" stroke-width="1.3" fill="none" />
<path d="M565.0,137.5 L572.5,136.2 L567.5,141.2" stroke-width="1.3" fill="none" />
<path d="M580.0,162.5 L592.5,161.2 L587.5,165.5" stroke-width="1.3" fill="none" />
<path d="M485.0,137.5 L500.0,170.0" stroke-width="1.43" fill="none" />
<path d="M490.0,136.2 L505.5,168.5" stroke-width="1.3" fill="none" />
<path d="M515.0,143.0 L522.5,167.5" stroke-width="1.43" fill="none" />
<path d="M527.5,196.2 L535.0,205.0 L517.5,202.5" stroke-width="1.43" fill="none" />
<path d="M522.5,212.5 C525.4,212.9 535.4,212.1 540.0,215.0 C544.6,217.9 547.1,224.8 550.0,230.0 C552.9,235.2 556.2,243.3 557.5,246.0" stroke-width="1.56" fill="none" />
<path d="M527.5,210.0 C530.4,210.5 540.3,210.0 545.0,213.0 C549.7,216.0 552.4,222.5 555.5,228.0 C558.6,233.5 562.2,243.0 563.5,246.0" stroke-width="1.3" fill="none" />
<path d="M440.0,160.0 L455.0,154.5 L456.5,159.5 L440.0,165.5" stroke-width="1.3" fill="none" />
<path d="M440.0,185.0 L455.0,178.8" stroke-width="1.3" fill="none" />
<path d="M445.0,190.0 L440.0,192.5" stroke-width="1.3" fill="none" />
<path d="M482.5,225.0 L522.5,212.5" stroke-width="1.43" fill="none" />
<path d="M440.0,240.0 L482.5,225.0" stroke-width="1.43" fill="none" />
<path d="M492.5,230.0 L522.5,220.0 L523.8,225.0 L493.8,235.5 Z" stroke-width="1.3" fill="none" />
<path d="M620.0,188.0 L621.8,189.8" stroke-width="2.34" fill="none" />
<path d="M630.0,202.5 L631.8,204.2" stroke-width="2.34" fill="none" />
<path d="M638.0,218.0 L639.8,219.8" stroke-width="2.34" fill="none" />
<path d="M645.0,234.5 L646.8,236.2" stroke-width="2.34" fill="none" />
<path d="M650.5,252.5 L652.2,254.2" stroke-width="2.34" fill="none" />
<path d="M654.5,270.0 L656.2,271.8" stroke-width="2.34" fill="none" />
<path d="M657.5,287.5 L659.2,289.2" stroke-width="2.34" fill="none" />
<path d="M552.5,177.5 C556.2,180.5 573.7,192.7 580.0,200.0 C586.3,207.3 595.7,223.8 600.0,232.5 C604.3,241.2 610.2,257.7 612.5,265.0 C614.8,272.3 616.5,282.8 617.5,287.5 C618.5,292.2 619.7,298.3 620.0,300.0" stroke-width="1.56" fill="none" />
<path d="M528.6,124.4 C535.1,126.0 555.9,126.7 567.6,134.2 C579.3,141.7 589.1,155.6 598.9,169.3 C608.7,183.0 619.1,200.6 626.2,216.2 C633.4,231.8 638.9,252.3 641.8,263.0 C644.7,273.7 643.5,277.7 643.8,280.6" stroke-width="1.56" fill="none" />
<path d="M568.8,266.2 C570.6,269.1 584.1,289.6 587.5,295.0 C590.9,300.4 601.0,317.5 602.5,320.0" stroke-width="1.56" fill="none" />
<path d="M573.8,263.0 C575.6,265.8 589.2,285.2 592.5,290.5 C595.8,295.8 605.5,313.0 607.0,315.5" stroke-width="1.43" fill="none" />
<path d="M565.5,268.5 C567.3,271.4 580.4,291.6 583.8,297.0 C587.1,302.4 597.6,318.2 598.8,322.0 C599.9,325.8 595.6,332.7 595.0,335.0 C594.4,337.3 592.8,344.0 592.5,345.0" stroke-width="1.43" fill="none" />
<path d="M547.5,257.5 L567.5,253.8 L575.0,258.8 L562.5,266.2 L547.5,258.8 Z" stroke-width="1.56" fill="#fff" />
<path d="M567.5,253.8 L568.8,258.0 L563.0,263.0" stroke-width="1.3" fill="none" />
<path d="M532.5,211.2 C534.0,213.2 545.0,227.3 547.5,231.2 C550.0,235.2 555.4,247.0 557.5,250.5 C559.6,254.0 567.6,264.7 568.8,266.2" stroke-width="1.43" fill="none" />
<path d="M537.5,207.5 C539.0,209.5 550.0,223.5 552.5,227.5 C555.0,231.5 560.9,243.9 563.0,247.5 C565.1,251.1 572.7,261.4 573.8,263.0" stroke-width="1.3" fill="none" />
<path d="M595.0,345.0 C595.8,344.2 608.1,330.1 610.0,330.0 C611.9,329.9 630.9,342.0 632.5,342.5 C634.1,343.0 642.0,340.1 642.5,340.0" stroke-width="1.56" fill="none" />
<path d="M587.5,320.0 C588.2,320.6 593.8,324.0 595.0,325.5 C596.2,327.0 600.0,333.1 600.0,335.0 C600.0,336.9 596.0,343.0 595.0,345.0 C594.0,347.0 590.5,354.0 590.0,355.0" stroke-width="1.43" fill="none" />
<path d="M597.5,348.0 C598.2,347.4 609.6,335.1 611.2,335.0 C612.9,334.9 630.2,345.0 631.2,345.5" stroke-width="1.3" fill="none" />
<path d="M605.0,340.0 L630.0,345.0" stroke-width="2.08" fill="none" />
<path d="M611.2,325.0 C612.3,322.5 614.0,314.2 617.5,310.0 C621.0,305.8 627.5,302.5 632.5,300.0 C637.5,297.5 643.5,296.2 647.5,295.0 C651.5,293.8 654.8,292.9 656.2,292.5" stroke-width="1.56" fill="none" />
<path d="M642.5,332.5 C642.9,330.8 642.9,325.0 645.0,322.5 C647.1,320.0 652.1,317.9 655.0,317.5 C657.9,317.1 661.2,319.6 662.5,320.0" stroke-width="1.56" fill="none" />
<path d="M620.0,326.2 C621.0,324.4 622.9,318.1 626.2,315.0 C629.6,311.9 636.0,309.2 640.0,307.5 C644.0,305.8 648.8,305.4 650.5,305.0" stroke-width="1.43" fill="none" />
<path d="M605.0,295.0 L616.2,280.0" stroke-width="1.43" fill="none" />
<path d="M620.0,287.5 L620.0,300.5" stroke-width="1.43" fill="none" />
<path d="M635.0,310.0 L645.0,330.0" stroke-width="1.43" fill="none" />
<path d="M650.0,295.0 L656.2,317.5" stroke-width="1.43" fill="none" />
<path d="M655.0,292.5 L660.0,313.0" stroke-width="1.3" fill="none" />
<path d="M640.0,275.0 L632.0,272.0 A7.6,8.4 -25 0 0 639.5,288.0 L647.5,291.0" stroke-width="1.56" fill="#fff" />
<ellipse cx="643.75" cy="283" rx="7.728000000000001" ry="8.4" transform="rotate(-25 643.75 283)" stroke-width="1.69" fill="#fff"/>
<ellipse cx="644.15" cy="283.2" rx="5.5440000000000005" ry="6.216" transform="rotate(-25 644.15 283.2)" stroke-width="1.56" fill="#fff"/>
<path d="M607.6,300.4 L599.6,296.4 A7.2,8.0 -25 0 0 606.9,311.6 L614.9,315.6" stroke-width="1.56" fill="#fff" />
<ellipse cx="611.25" cy="308" rx="7.36" ry="8" transform="rotate(-25 611.25 308)" stroke-width="1.69" fill="#fff"/>
<ellipse cx="611.65" cy="308.2" rx="5.28" ry="5.92" transform="rotate(-25 611.65 308.2)" stroke-width="1.56" fill="#fff"/>
<ellipse cx="621.25" cy="260" rx="3.4" ry="2.4" transform="rotate(-20 621.25 260)" stroke-width="1.56" fill="none"/>
<ellipse cx="621.8" cy="260.3" rx="1.8" ry="1.2" transform="rotate(-20 621.8 260.3)" stroke-width="1.3" fill="#333"/>
<path d="M580.0,317.5 C581.2,317.9 587.9,317.5 587.5,320.0 C587.1,322.5 579.6,328.8 577.5,332.5 C575.4,336.2 575.4,340.8 575.0,342.5" stroke-width="1.3" fill="none" />
<ellipse cx="592.5" cy="330.0" rx="6" ry="9" transform="rotate(-35 592.5 330.0)" stroke-width="1.43" fill="none"/>
<path d="M563.4,113.7 L564.3,114.9 L565.3,116.4 L566.6,118.1 L568.1,120.1 L569.6,122.3 L571.3,124.6 L573.1,126.9 L574.9,129.2 L576.7,131.6 L578.5,133.8 L580.3,135.9 L582.2,138.1 L584.2,140.3 L586.2,142.4 L588.2,144.6 L590.3,146.9 L592.4,149.1 L594.4,151.5 L596.4,153.8 L598.4,156.3 L600.4,158.8 L602.5,161.4 L604.5,164.0 L606.6,166.7 L608.6,169.5 L610.7,172.3 L612.7,175.1 L614.6,177.9 L616.5,180.7 L618.3,183.6 L620.1,186.4 L621.8,189.3 L623.4,192.3 L625.1,195.3 L626.7,198.3 L628.2,201.3 L629.8,204.3 L631.3,207.3 L632.8,210.1 L634.2,212.9 L635.7,215.6 L637.1,218.2 L638.4,220.8 L639.7,223.3 L641.0,225.7 L642.3,228.1 L643.6,230.6 L644.8,233.0 L646.0,235.4 L647.2,237.9 L648.4,240.4 L649.6,242.8 L650.8,245.3 L652.0,247.7 L653.2,250.2 L654.3,252.6 L655.4,255.0 L656.3,257.5 L657.3,260.0 L658.1,262.6 L658.8,265.2 L659.5,267.9 L660.1,270.7 L660.6,273.5 L661.1,276.3 L661.6,279.2 L662.0,282.0 L662.4,284.8 L662.7,287.5 L663.0,290.2 L663.3,292.9 L663.5,295.7 L663.7,298.6 L663.8,301.5 L663.9,304.3 L664.0,307.0 L664.1,309.5 L664.1,311.7 L664.2,313.6 L664.3,315.1" stroke-width="1.3" fill="none" />
<path d="M561.6,115.0 L562.5,116.2 L563.6,117.6 L564.8,119.4 L566.3,121.4 L567.9,123.6 L569.5,125.9 L571.3,128.2 L573.1,130.6 L574.9,132.9 L576.8,135.2 L578.6,137.4 L580.6,139.6 L582.5,141.7 L584.6,143.9 L586.6,146.1 L588.7,148.4 L590.7,150.6 L592.8,152.9 L594.8,155.2 L596.7,157.6 L598.7,160.1 L600.7,162.7 L602.8,165.4 L604.8,168.1 L606.9,170.8 L608.9,173.6 L610.9,176.4 L612.8,179.2 L614.7,182.0 L616.4,184.7 L618.2,187.5 L619.9,190.4 L621.5,193.4 L623.1,196.4 L624.7,199.4 L626.3,202.4 L627.8,205.3 L629.3,208.3 L630.8,211.2 L632.3,214.0 L633.7,216.7 L635.1,219.3 L636.5,221.8 L637.8,224.3 L639.1,226.7 L640.4,229.2 L641.6,231.6 L642.8,234.0 L644.0,236.4 L645.2,238.8 L646.4,241.3 L647.7,243.8 L648.9,246.3 L650.0,248.7 L651.2,251.1 L652.3,253.5 L653.3,255.9 L654.3,258.3 L655.2,260.7 L656.0,263.2 L656.7,265.8 L657.4,268.4 L657.9,271.1 L658.5,273.9 L659.0,276.7 L659.4,279.5 L659.8,282.3 L660.2,285.1 L660.5,287.8 L660.8,290.5 L661.1,293.1 L661.3,295.9 L661.5,298.7 L661.6,301.6 L661.7,304.4 L661.8,307.1 L661.9,309.5 L661.9,311.8 L662.0,313.7 L662.1,315.2" stroke-width="1.3" fill="none" />
<path d="M559.9,116.3 L560.7,117.5 L561.8,118.9 L563.1,120.7 L564.5,122.7 L566.1,124.9 L567.8,127.2 L569.6,129.5 L571.4,131.9 L573.2,134.3 L575.1,136.6 L577.0,138.8 L578.9,141.0 L580.9,143.2 L582.9,145.4 L585.0,147.6 L587.0,149.8 L589.1,152.1 L591.1,154.4 L593.1,156.7 L595.0,159.0 L597.0,161.5 L599.0,164.1 L601.0,166.7 L603.1,169.4 L605.1,172.1 L607.1,174.8 L609.0,177.6 L611.0,180.4 L612.8,183.2 L614.6,185.9 L616.3,188.7 L618.0,191.5 L619.6,194.4 L621.2,197.4 L622.8,200.4 L624.3,203.4 L625.9,206.3 L627.4,209.3 L628.9,212.2 L630.3,215.0 L631.8,217.7 L633.2,220.3 L634.5,222.8 L635.9,225.3 L637.1,227.8 L638.4,230.2 L639.6,232.6 L640.9,234.9 L642.1,237.3 L643.2,239.8 L644.5,242.3 L645.7,244.8 L646.9,247.2 L648.1,249.6 L649.2,252.0 L650.3,254.4 L651.3,256.7 L652.2,259.1 L653.1,261.5 L653.9,263.9 L654.6,266.3 L655.2,268.9 L655.8,271.6 L656.3,274.3 L656.8,277.0 L657.2,279.8 L657.6,282.6 L658.0,285.4 L658.3,288.1 L658.6,290.7 L658.9,293.3 L659.1,296.0 L659.3,298.9 L659.4,301.7 L659.5,304.5 L659.6,307.1 L659.7,309.6 L659.7,311.8 L659.8,313.7 L659.9,315.2" stroke-width="1.69" fill="none" />
<path d="M441.0,108.6 C440.9,109.5 440.0,112.0 440.4,113.7 C440.8,115.3 442.2,117.4 443.5,118.7 C444.9,119.9 447.7,120.8 448.5,121.2" stroke-width="1.69" fill="none" />
<path d="M448.5,121.2 L466.1,116.2 L510.0,101.1 L511.5,97.4 L510.3,94.3" stroke-width="1.69" fill="none" />
<path d="M441.0,108.6 C441.4,108.5 444.3,106.8 446.0,106.1 C447.8,105.5 465.9,99.7 467.4,99.2" stroke-width="1.56" fill="none" />
<path d="M467.4,99.2 L477.4,103.6" stroke-width="1.43" fill="none" />
<path d="M448.5,115.7 L477.4,104.3" stroke-width="1.3" fill="none" />
<path d="M484.3,89.8 C484.4,89.2 484.8,87.3 485.2,86.1 C485.5,84.9 485.4,83.4 486.4,82.6 C487.4,81.8 490.4,81.5 491.2,81.3" stroke-width="1.56" fill="none" />
<path d="M469.2,112.2 L483.7,107.4" stroke-width="3.12" fill="none" />
<path d="M476.8,114.3 L495.0,106.4" stroke-width="2.86" fill="none" />
<path d="M488.7,103.6 L501.2,98.9" stroke-width="2.34" fill="none" />
<path d="M496.2,98.0 L508.1,94.2" stroke-width="1.82" fill="none" />
<path d="M466.1,116.2 L467.4,118.2 L471.8,116.7" stroke-width="1.3" fill="none" />
<path d="M477.4,103.6 L511.3,90.5 L536.4,78.5 L561.4,82.3 L569.0,86.3" stroke-width="1.56" fill="none" />
<path d="M436.0,140.0 C440.7,138.1 501.1,113.4 506.2,111.2 C511.4,108.9 513.0,106.9 513.8,106.1 C514.5,105.4 517.4,100.9 517.5,100.1 C517.7,99.4 516.6,95.4 516.5,95.1" stroke-width="2.86" fill="none" />
<path d="M516.5,95.1 L536.4,80.0 L560.2,83.8 L567.7,87.6" stroke-width="2.86" fill="none" />
<path d="M567.7,87.6 C566.9,88.6 564.1,91.1 562.7,93.6 C561.3,96.1 559.4,99.0 559.2,102.4 C559.0,105.7 559.8,109.9 561.4,113.7 C563.1,117.4 565.9,121.2 569.0,125.0 C572.1,128.7 578.2,134.4 580.0,136.2" stroke-width="2.34" fill="none" />
<path d="M436.0,142.5 C440.8,140.6 502.2,115.5 507.5,113.2 C512.8,110.8 514.7,108.4 515.5,107.6 C516.3,106.8 519.0,101.6 519.3,101.1" stroke-width="1.3" fill="none" />
<path d="M519.3,97.4 L537.1,82.1 L559.6,85.6 L565.2,88.3" stroke-width="1.3" fill="none" />
<path d="M565.2,88.3 C564.4,89.3 562.0,92.0 560.7,94.3 C559.3,96.7 557.4,99.3 557.2,102.6 C557.0,105.9 557.8,110.3 559.4,114.2 C561.1,118.0 563.9,121.9 567.0,125.7 C570.0,129.5 575.9,135.1 577.7,137.0" stroke-width="1.3" fill="none" />
<path d="M538.2,88.0 L527.6,89.8 L527.6,89.8 C527.0,90.9 524.6,94.1 524.4,96.1 C524.2,98.1 526.0,100.8 526.3,101.8 L535.1,103.6" stroke-width="1.56" fill="#fff" />
<ellipse cx="538.860010035123" cy="96.10536879076768" rx="8.8" ry="8.2" transform="rotate(-25 538.860010035123 96.10536879076768)" stroke-width="1.82" fill="#fff"/>
<ellipse cx="539.487205218264" cy="96.73256397390868" rx="6.5" ry="6.0" transform="rotate(-25 539.487205218264 96.73256397390868)" stroke-width="1.56" fill="#fff"/>
<path d="M534.1,98.9 C534.8,99.3 536.6,101.5 538.2,101.6 C539.9,101.8 542.9,100.0 543.9,99.6" stroke-width="1.3" fill="none" />
<path d="M496.2,118.7 L511.3,114.9 L519.4,119.9 L506.2,124.3 Z" stroke-width="1.56" fill="#fff" />
<path d="M489.9,126.2 L512.5,137.5 L514.4,142.5 L491.2,131.2 Z" stroke-width="1.56" fill="#fff" />
<path d="M489.9,126.2 L495.0,121.2 L506.2,124.3 L512.5,137.5" stroke-width="1.43" fill="none" />
<path d="M512.5,124.3 L515.0,138.8" stroke-width="1.43" fill="none" />
<path d="M519.4,119.9 L516.9,136.2" stroke-width="1.43" fill="none" />
<path d="M518.8,128.7 L522.6,131.2 L522.6,138.8 L517.5,138.1" stroke-width="1.43" fill="none" />
<path d="M473.6,130.0 L488.7,134.4 L486.2,146.3" stroke-width="1.43" fill="none" />
<path d="M436.0,158.8 L483.7,138.8 L486.2,146.3" stroke-width="1.56" fill="none" />
<path d="M436.0,161.3 L484.3,141.0" stroke-width="1.3" fill="none" />
<path d="M463.6,148.2 L464.9,151.3 L468.0,150.7" stroke-width="1.3" fill="none" />
<path d="M478.6,143.8 L491.2,164.0" stroke-width="1.56" fill="none" />
<path d="M481.4,142.8 L494.0,164.0" stroke-width="1.3" fill="none" />
<path d="M492.4,136.2 L506.2,164.0" stroke-width="1.43" fill="none" />
<path d="M516.3,136.2 L523.8,164.0" stroke-width="1.43" fill="none" />
<path d="M516.3,125.0 C518.4,124.3 524.2,121.7 528.8,121.2 C533.4,120.7 539.3,120.6 543.9,121.8 C548.5,123.1 553.5,126.1 556.4,128.7 C559.3,131.3 560.6,136.0 561.4,137.5" stroke-width="1.56" fill="none" />
<path d="M542.6,137.5 L556.4,131.2 L560.2,136.2 L547.6,142.5 Z" stroke-width="1.69" fill="#fff" />
<path d="M542.6,137.5 L546.4,150.0 L548.9,148.8 L547.6,142.5" stroke-width="1.56" fill="none" />
<path d="M560.2,136.2 C560.8,137.9 562.7,142.1 563.9,146.3 C565.2,150.5 567.1,158.8 567.7,161.3" stroke-width="1.56" fill="none" />
<path d="M563.9,141.3 L572.7,138.1 L566.5,143.8" stroke-width="1.3" fill="none" />
<path d="M538.9,151.3 C540.1,151.1 543.5,149.5 546.4,150.3 C549.3,151.1 553.5,154.0 556.4,156.3 C559.3,158.6 562.7,162.7 563.9,164.0" stroke-width="1.56" fill="none" />
<path d="M543.9,153.8 C545.3,154.6 550.1,157.1 552.7,158.8 C555.2,160.5 557.9,163.1 558.9,164.0" stroke-width="1.3" fill="none" />
<path d="M523.8,128.7 L542.6,137.5" stroke-width="1.43" fill="none" />
<path d="M522.6,131.2 L541.4,140.0" stroke-width="1.3" fill="none" />
<path d="M407.5,274.3 L485.3,235.9" stroke-width="1.43" fill="none" />
<path d="M410.0,272.3 L484.3,234.2" stroke-width="1.3" fill="none" />
<path d="M400.0,271.5 L418.8,265.3" stroke-width="1.3" fill="none" />
<path d="M486.6,238.3 L490.3,233.9 L520.4,220.1 L534.8,222.0" stroke-width="1.56" fill="none" />
<path d="M410.0,201.9 C411.1,204.7 412.5,212.9 416.3,218.9 C420.1,224.8 427.0,232.8 432.6,237.7 C438.3,242.6 446.6,246.4 450.2,248.3 C453.8,250.2 453.5,248.9 454.2,249.0" stroke-width="1.69" fill="none" />
<path d="M412.5,201.3 C413.6,204.0 415.1,212.0 418.8,217.8 C422.5,223.7 429.4,231.4 434.9,236.2 C440.3,240.9 448.9,244.7 451.7,246.4" stroke-width="1.3" fill="none" />
<path d="M446.4,192.5 C447.9,195.0 451.2,202.5 455.2,207.6 C459.2,212.6 465.2,218.6 470.2,222.6 C475.3,226.6 483.0,229.9 485.5,231.4" stroke-width="1.69" fill="none" />
<path d="M448.9,191.8 C450.4,194.2 453.8,201.7 457.7,206.6 C461.6,211.5 467.7,217.3 472.5,221.1 C477.3,224.9 484.2,228.0 486.6,229.4" stroke-width="1.3" fill="none" />
<path d="M480.3,190.0 C481.5,191.7 484.9,197.1 487.8,200.0 C490.7,203.0 496.2,206.3 497.8,207.6" stroke-width="1.56" fill="none" />
<path d="M446.4,240.2 L475.3,227.6" stroke-width="1.43" fill="none" />
<path d="M454.2,249.0 L485.3,232.6" stroke-width="1.43" fill="none" />
<path d="M400.0,231.4 L421.3,239.5" stroke-width="1.56" fill="none" />
<path d="M400.0,240.2 L415.7,247.5" stroke-width="1.56" fill="none" />
<path d="M418.8,252.7 L420.7,265.3 L437.6,257.7 L440.1,250.2 L436.4,248.0" stroke-width="1.56" fill="none" />
<ellipse cx="426.96939287506274" cy="251.46512794781736" rx="7.5" ry="6.9" transform="rotate(-25 426.96939287506274 251.46512794781736)" stroke-width="1.82" fill="#fff"/>
<ellipse cx="427.59658805820374" cy="251.96688409433017" rx="5.4" ry="5.0" transform="rotate(-25 427.59658805820374 251.96688409433017)" stroke-width="1.56" fill="#fff"/>
<path d="M422.6,254.2 C423.2,254.6 425.0,256.4 426.6,256.5 C428.2,256.5 431.2,254.8 432.1,254.5" stroke-width="1.3" fill="none" />
<path d="M400.0,260.2 L418.8,265.3" stroke-width="1.3" fill="none" />
<path d="M400.0,266.5 L408.8,270.3" stroke-width="1.3" fill="none" />
<path d="M482.8,208.8 L486.6,212.8 L501.6,220.4 L504.4,218.3 L487.8,210.6 Z" stroke-width="1.56" fill="#222" />
<path d="M475.3,221.4 L504.1,206.9 L520.4,213.8 L505.4,222.6" stroke-width="1.56" fill="none" />
<path d="M501.6,220.4 L502.9,222.9" stroke-width="1.3" fill="none" />
<path d="M504.4,218.3 L505.6,221.4" stroke-width="1.3" fill="none" />
<path d="M492.8,231.4 C493.3,230.9 495.8,229.3 497.8,228.9 C499.8,228.5 512.3,226.9 512.9,227.6 C513.5,228.4 505.5,235.3 504.1,236.4 C502.7,237.5 500.2,238.5 499.1,238.3 C498.0,238.1 494.1,234.8 493.5,234.2 C492.8,233.5 492.4,231.9 492.8,231.4 Z" stroke-width="1.56" fill="none" />
<path d="M506.6,226.4 L525.4,217.0" stroke-width="1.43" fill="none" />
<path d="M520.4,215.1 L521.7,222.9 L517.9,220.9" stroke-width="1.43" fill="none" />
<path d="M510.4,222.6 L516.7,219.5 L517.3,222.9" stroke-width="1.3" fill="none" />
<path d="M516.7,201.3 L530.5,206.3 L533.0,202.5" stroke-width="1.56" fill="none" />
<path d="M519.2,193.8 L530.5,197.5 L533.2,190.0" stroke-width="1.43" fill="none" />
<path d="M530.5,206.3 L531.7,212.6" stroke-width="1.3" fill="none" />
<path d="M522.9,214.5 C523.8,214.1 526.3,212.5 527.9,212.6 C529.6,212.7 531.8,213.6 533.0,215.1 C534.2,216.6 534.8,220.5 535.2,221.6" stroke-width="1.56" fill="none" />
<line x1="192.5" y1="472.7" x2="205.7" y2="467.1" stroke-width="1.56"/>
<line x1="320.5" y1="416.3" x2="349.5" y2="402.8" stroke-width="1.56"/>
<path d="M291.9,421.7 L307.4,414.8 A4.48,6.50 -38 0 1 314.1,425.8 L298.6,432.8 A4.48,6.50 -38 0 1 291.9,421.7 Z" stroke-width="1.56" fill="#fff" />
<ellipse cx="295.2" cy="427.2" rx="4.48" ry="6.5" transform="rotate(-38 295.2 427.2)" stroke-width="1.56" fill="#fff"/>
<path d="M276.4,426.8 L291.0,420.3 A5.66,8.20 -38 0 1 299.4,434.2 L284.8,440.7 A5.66,8.20 -38 0 1 276.4,426.8 Z" stroke-width="1.56" fill="#fff" />
<ellipse cx="280.6" cy="433.7" rx="5.66" ry="8.2" transform="rotate(-38 280.6 433.7)" stroke-width="1.56" fill="#fff"/>
<path d="M246.4,434.7 L273.8,422.5 A9.11,13.20 -38 0 1 287.4,444.9 L260.0,457.2 A9.11,13.20 -38 0 1 246.4,434.7 Z" stroke-width="1.56" fill="#fff" />
<ellipse cx="253.2" cy="445.9" rx="9.11" ry="13.2" transform="rotate(-38 253.2 445.9)" stroke-width="1.56" fill="#fff"/>
<path d="M225.5,440.5 L244.7,431.9 A11.38,16.50 -38 0 1 261.7,460.0 L242.5,468.5 A11.38,16.50 -38 0 1 225.5,440.5 Z" stroke-width="1.56" fill="#fff" />
<ellipse cx="234.0" cy="454.5" rx="11.38" ry="16.5" transform="rotate(-38 234.0 454.5)" stroke-width="1.56" fill="#fff"/>
<path d="M222.2,448.4 L228.6,445.6 A7.24,10.50 -38 0 1 239.4,463.4 L233.0,466.2 A7.24,10.50 -38 0 1 222.2,448.4 Z" stroke-width="1.56" fill="#fff" />
<ellipse cx="227.6" cy="457.3" rx="7.24" ry="10.5" transform="rotate(-38 227.6 457.3)" stroke-width="1.56" fill="#fff"/>
<path d="M220.0,450.5 L222.7,449.3 A6.55,9.50 -38 0 1 232.5,465.4 L229.8,466.6 A6.55,9.50 -38 0 1 220.0,450.5 Z" stroke-width="1.56" fill="#fff" />
<ellipse cx="224.9" cy="458.6" rx="6.55" ry="9.5" transform="rotate(-38 224.9 458.6)" stroke-width="1.56" fill="#fff"/>
<path d="M214.1,450.4 L218.7,448.4 A8.28,12.00 -38 0 1 231.1,468.7 L226.5,470.8 A8.28,12.00 -38 0 1 214.1,450.4 Z" stroke-width="1.56" fill="#fff" />
<ellipse cx="220.3" cy="460.6" rx="8.28" ry="12" transform="rotate(-38 220.3 460.6)" stroke-width="1.56" fill="#fff"/>
<path d="M200.3,458.2 L214.9,451.7 A7.24,10.50 -38 0 1 225.7,469.5 L211.1,476.0 A7.24,10.50 -38 0 1 200.3,458.2 Z" stroke-width="1.56" fill="#fff" />
<ellipse cx="205.7" cy="467.1" rx="7.24" ry="10.5" transform="rotate(-38 205.7 467.1)" stroke-width="1.56" fill="#fff"/>
<ellipse cx="206.6" cy="466.7" rx="6.2" ry="8.6" transform="rotate(-24 206.6 466.7)" stroke-width="1.3" fill="none"/>
<line x1="199" y1="470" x2="205.7" y2="467.1" stroke-width="1.56"/>
<path d="M252.3,446.2 L259.6,443.6 L259.8,458.8 L252.6,461.8 Z" stroke-width="1.43" fill="#fff" />
<path d="M260.5,445.5 Q264.5,452 260.8,458" stroke-width="1.3" fill="none" />
<path d="M139.8,457.9 L149.4,453.6 A25.53,37.00 -38 0 1 187.4,516.4 L177.8,520.7 A25.53,37.00 -38 0 1 139.8,457.9 Z" stroke-width="1.56" fill="#fff" />
<ellipse cx="158.8" cy="489.3" rx="25.53" ry="37" transform="rotate(-38 158.8 489.3)" stroke-width="1.56" fill="#fff"/>
<path d="M115.8,469.6 L139.5,459.0 A24.15,35.00 -38 0 1 175.6,518.4 L151.8,529.0 A24.15,35.00 -38 0 1 115.8,469.6 Z" stroke-width="1.56" fill="#fff" />
<path d="M115.8,469.6 L134.5,461.3 A24.15,35.00 -38 0 1 170.5,520.7 L151.8,529.0 A24.15,35.00 -38 0 1 115.8,469.6 Z" stroke-width="1.56" fill="#fff" />
<line x1="105.4" y1="492.9" x2="106.6" y2="496.1" stroke-width="3.38"/>
<line x1="105.4" y1="492.9" x2="106.6" y2="496.1" stroke="#fff" stroke-width="1.3"/>
<line x1="105.1" y1="487.9" x2="106.2" y2="491.9" stroke-width="3.38"/>
<line x1="105.1" y1="487.9" x2="106.2" y2="491.9" stroke="#fff" stroke-width="1.3"/>
<line x1="105.6" y1="483.2" x2="106.5" y2="487.9" stroke-width="3.38"/>
<line x1="105.6" y1="483.2" x2="106.5" y2="487.9" stroke="#fff" stroke-width="1.3"/>
<line x1="106.9" y1="478.9" x2="107.4" y2="484.3" stroke-width="3.38"/>
<line x1="106.9" y1="478.9" x2="107.4" y2="484.3" stroke="#fff" stroke-width="1.3"/>
<line x1="108.9" y1="475.2" x2="109.0" y2="481.1" stroke-width="3.38"/>
<line x1="108.9" y1="475.2" x2="109.0" y2="481.1" stroke="#fff" stroke-width="1.3"/>
<line x1="111.6" y1="472.2" x2="111.2" y2="478.5" stroke-width="3.38"/>
<line x1="111.6" y1="472.2" x2="111.2" y2="478.5" stroke="#fff" stroke-width="1.3"/>
<line x1="115.0" y1="470.0" x2="113.9" y2="476.5" stroke-width="3.38"/>
<line x1="115.0" y1="470.0" x2="113.9" y2="476.5" stroke="#fff" stroke-width="1.3"/>
<line x1="118.9" y1="468.6" x2="117.1" y2="475.3" stroke-width="3.38"/>
<line x1="118.9" y1="468.6" x2="117.1" y2="475.3" stroke="#fff" stroke-width="1.3"/>
<line x1="123.2" y1="468.0" x2="120.6" y2="474.7" stroke-width="3.38"/>
<line x1="123.2" y1="468.0" x2="120.6" y2="474.7" stroke="#fff" stroke-width="1.3"/>
<line x1="127.8" y1="468.3" x2="124.4" y2="474.9" stroke-width="3.38"/>
<line x1="127.8" y1="468.3" x2="124.4" y2="474.9" stroke="#fff" stroke-width="1.3"/>
<line x1="132.6" y1="469.5" x2="128.4" y2="475.8" stroke-width="3.38"/>
<line x1="132.6" y1="469.5" x2="128.4" y2="475.8" stroke="#fff" stroke-width="1.3"/>
<line x1="137.4" y1="471.5" x2="132.4" y2="477.4" stroke-width="3.38"/>
<line x1="137.4" y1="471.5" x2="132.4" y2="477.4" stroke="#fff" stroke-width="1.3"/>
<line x1="142.1" y1="474.3" x2="136.4" y2="479.6" stroke-width="3.38"/>
<line x1="142.1" y1="474.3" x2="136.4" y2="479.6" stroke="#fff" stroke-width="1.3"/>
<line x1="146.6" y1="477.8" x2="140.2" y2="482.5" stroke-width="3.38"/>
<line x1="146.6" y1="477.8" x2="140.2" y2="482.5" stroke="#fff" stroke-width="1.3"/>
<line x1="150.7" y1="481.9" x2="143.7" y2="485.9" stroke-width="3.38"/>
<line x1="150.7" y1="481.9" x2="143.7" y2="485.9" stroke="#fff" stroke-width="1.3"/>
<line x1="154.3" y1="486.5" x2="146.8" y2="489.7" stroke-width="3.38"/>
<line x1="154.3" y1="486.5" x2="146.8" y2="489.7" stroke="#fff" stroke-width="1.3"/>
<line x1="157.4" y1="491.5" x2="149.5" y2="493.8" stroke-width="3.38"/>
<line x1="157.4" y1="491.5" x2="149.5" y2="493.8" stroke="#fff" stroke-width="1.3"/>
<line x1="159.8" y1="496.7" x2="151.6" y2="498.1" stroke-width="3.38"/>
<line x1="159.8" y1="496.7" x2="151.6" y2="498.1" stroke="#fff" stroke-width="1.3"/>
<line x1="161.5" y1="501.9" x2="153.1" y2="502.5" stroke-width="3.38"/>
<line x1="161.5" y1="501.9" x2="153.1" y2="502.5" stroke="#fff" stroke-width="1.3"/>
<line x1="162.4" y1="507.1" x2="154.0" y2="506.9" stroke-width="3.38"/>
<line x1="162.4" y1="507.1" x2="154.0" y2="506.9" stroke="#fff" stroke-width="1.3"/>
<line x1="162.5" y1="512.1" x2="154.2" y2="511.1" stroke-width="3.38"/>
<line x1="162.5" y1="512.1" x2="154.2" y2="511.1" stroke="#fff" stroke-width="1.3"/>
<line x1="161.8" y1="516.7" x2="153.7" y2="515.0" stroke-width="3.38"/>
<line x1="161.8" y1="516.7" x2="153.7" y2="515.0" stroke="#fff" stroke-width="1.3"/>
<line x1="160.3" y1="520.8" x2="152.6" y2="518.5" stroke-width="3.38"/>
<line x1="160.3" y1="520.8" x2="152.6" y2="518.5" stroke="#fff" stroke-width="1.3"/>
<line x1="158.0" y1="524.3" x2="150.8" y2="521.5" stroke-width="3.38"/>
<line x1="158.0" y1="524.3" x2="150.8" y2="521.5" stroke="#fff" stroke-width="1.3"/>
<line x1="155.1" y1="527.1" x2="148.5" y2="523.9" stroke-width="3.38"/>
<line x1="155.1" y1="527.1" x2="148.5" y2="523.9" stroke="#fff" stroke-width="1.3"/>
<line x1="151.6" y1="529.1" x2="145.6" y2="525.7" stroke-width="3.38"/>
<line x1="151.6" y1="529.1" x2="145.6" y2="525.7" stroke="#fff" stroke-width="1.3"/>
<line x1="147.6" y1="530.3" x2="142.4" y2="526.8" stroke-width="3.38"/>
<line x1="147.6" y1="530.3" x2="142.4" y2="526.8" stroke="#fff" stroke-width="1.3"/>
<path d="M106.6,496.3 L106.3,493.5 L106.2,490.8 L106.4,488.2 L106.9,485.8 L107.7,483.5 L108.8,481.5 L110.1,479.6 L111.7,478.1 L113.5,476.8 L115.4,475.8 L117.6,475.1 L119.9,474.7 L122.4,474.7 L124.9,474.9 L127.5,475.5 L130.1,476.4 L132.8,477.5 L135.4,479.0 L137.9,480.7 L140.4,482.7 L142.7,484.9 L144.9,487.2 L146.9,489.8 L148.7,492.4 L150.2,495.2 L151.6,498.1 L152.6,501.0 L153.4,503.8 L154.0,506.7 L154.2,509.4 L154.1,512.1 L153.8,514.7 L153.2,517.0 L152.3,519.2 L151.1,521.1 L149.7,522.9 L148.0,524.3 L146.1,525.5 L144.1,526.3 L141.8,526.9" stroke-width="1.17" fill="none" />
<path d="M92.6,483.7 L108.1,476.8 A21.04,30.50 -38 0 1 139.5,528.6 L124.0,535.5 A21.04,30.50 -38 0 1 92.6,483.7 Z" stroke-width="1.56" fill="#fff" />
<ellipse cx="108.3" cy="509.6" rx="21.04" ry="30.5" transform="rotate(-38 108.3 509.6)" stroke-width="1.56" fill="#fff"/>
<ellipse cx="102" cy="512.1" rx="13.5" ry="19.5" transform="rotate(-38 102 512.1)" stroke-width="1.43" fill="none"/>
<ellipse cx="102.6" cy="512.5" rx="7" ry="9.4" transform="rotate(-38 102.6 512.5)" stroke-width="1.43" fill="none"/>
<line x1="78.5" y1="522.5" x2="102.5" y2="512" stroke-width="1.56"/>
<ellipse cx="122.7" cy="479.5" rx="6.2" ry="2.6" transform="rotate(-8 122.7 479.5)" stroke-width="1.3" fill="#fff"/>
<line x1="124.25" y1="432.5" x2="124.25" y2="480" stroke-width="1.56"/>
<path d="M132.4,384.6 L181.6,361.6 A3.6,3.6 0 0 1 186,368 L133.3,393.3 Z" stroke-width="1.56" fill="#fff" />
<path d="M116.75,385.5 L116.75,415 Q124.5,420.5 132.4,416 L132.4,385.7" stroke-width="1.56" fill="#fff" />
<ellipse cx="124.6" cy="385.7" rx="7.8" ry="3.4" fill="#fff" stroke-width="1.2"/>
<path d="M117,393.2 L92.4,405.3 A3,4 -25 0 0 95.8,412.2 L122.5,398.8 Q124,396 122.6,393.4 Z" stroke-width="1.56" fill="#fff" />
<ellipse cx="94" cy="408.7" rx="2.6" ry="3.8" transform="rotate(-25 94 408.7)" stroke-width="1.3" fill="#fff"/>
<path d="M110.1,416.5 Q109.5,419 111.5,421.5 L119.5,431 Q124.5,434 130.5,431.8 L139.5,421 Q141.3,418 140.8,415.5" stroke-width="1.56" fill="#fff" />
<path d="M116.75,411.2 Q110.5,412.5 110.1,416.5 Q118,424 132,422.5 Q140.5,420 140.8,415.5 Q140,411.5 132.4,410.8" stroke-width="1.56" fill="#fff" />
<line x1="114.5" y1="423" x2="118" y2="430.5" stroke-width="1.69"/>
<line x1="119" y1="423" x2="121.5" y2="430.5" stroke-width="1.69"/>
<line x1="124" y1="423" x2="125" y2="430.5" stroke-width="1.69"/>
<line x1="129" y1="423" x2="128" y2="430.5" stroke-width="1.69"/>
<line x1="134" y1="423" x2="131.5" y2="430.5" stroke-width="1.69"/>
<line x1="137.5" y1="423" x2="134.5" y2="430.5" stroke-width="1.69"/>
<path d="M112,421.5 Q124,428.5 139,421" stroke-width="1.3" fill="none" />
<path d="M116.75,411.2 L116.75,415 Q124.5,420.5 132.4,416 L132.4,410.8" stroke-width="1.56" fill="#fff" />
<line x1="124.25" y1="372.5" x2="124.25" y2="384" stroke-width="1.56"/>
<line x1="320.5" y1="416.3" x2="349.5" y2="402.8" stroke-width="1.56"/>
<line x1="374" y1="392" x2="416.5" y2="373.8" stroke-width="1.56"/>
<line x1="451.5" y1="357.6" x2="478.9" y2="346.4" stroke-width="1.56"/>
<line x1="490.1" y1="341.4" x2="527.1" y2="325.7" stroke-width="1.56"/>
<path d="M336.8,376.5 L347.3,371.8 A20.82,28.44 -36.5099438732179 0 1 375.3,420.9 L364.8,425.5 A20.82,28.44 -36.5099438732179 0 1 336.8,376.5 Z" stroke-width="1.69" fill="#fff" />
<ellipse cx="350.8" cy="401.0" rx="20.82" ry="28.439360163414634" transform="rotate(-36.5099438732179 350.8 401.0)" stroke-width="1.69" fill="#fff"/>
<ellipse cx="351.6" cy="400.8" rx="19.574646161111037" ry="26.732998553609754" transform="rotate(-36.5099438732179 351.6 400.8)" stroke-width="1.3" fill="none"/>
<ellipse cx="349.2" cy="402.4" rx="8.6" ry="13" transform="rotate(-36.5099438732179 349.2 402.4)" stroke-width="1.43" fill="#fff"/>
<path d="M350.4,410.7 L349.9,410.3 L349.4,410.0 L348.9,409.6 L348.5,409.2 L348.0,408.8 L347.6,408.4 L347.2,408.0 L346.7,407.5 L346.3,407.1 L345.9,406.6 L345.6,406.1 L345.2,405.6 L344.8,405.0 L344.5,404.5 L344.2,404.0 L343.9,403.4 L343.7,402.9 L343.4,402.3 L343.2,401.8 L343.0,401.2 L342.8,400.7 L342.6,400.1 L342.5,399.6 L342.4,399.0 L342.3,398.5 L342.2,397.9 L342.2,397.4 L342.1,396.8 L342.1,396.3 L342.2,395.8 L342.2,395.3 L342.3,394.9 L342.4,394.4 L342.5,393.9 L342.6,393.5 L342.8,393.1 L343.0,392.7 L343.2,392.3 L343.4,391.9 L343.7,391.6" stroke-width="1.3" fill="none" />
<line x1="327" y1="412" x2="349.5" y2="402.5" stroke-width="1.56"/>
<ellipse cx="434.1" cy="367.85" rx="19.397820882795312" ry="41.03446167551112" transform="rotate(-26.41435647719579 434.1 367.85)" stroke-width="1.56" fill="#fff"/>
<line x1="395.2" y1="339.3" x2="409.6" y2="340.3" stroke-width="2.21"/>
<line x1="396.8" y1="337.5" x2="410.5" y2="337.5" stroke-width="2.21"/>
<line x1="398.7" y1="336.2" x2="411.7" y2="335.0" stroke-width="2.21"/>
<line x1="400.9" y1="335.4" x2="413.2" y2="333.1" stroke-width="2.21"/>
<line x1="403.3" y1="335.1" x2="415.0" y2="331.6" stroke-width="2.21"/>
<line x1="405.9" y1="335.4" x2="417.1" y2="330.6" stroke-width="2.21"/>
<line x1="408.6" y1="336.2" x2="419.4" y2="330.1" stroke-width="2.21"/>
<line x1="411.5" y1="337.5" x2="422.0" y2="330.2" stroke-width="2.21"/>
<line x1="414.5" y1="339.3" x2="424.7" y2="330.8" stroke-width="2.21"/>
<line x1="417.4" y1="341.5" x2="427.5" y2="331.9" stroke-width="2.21"/>
<line x1="420.4" y1="344.3" x2="430.4" y2="333.6" stroke-width="2.21"/>
<line x1="423.4" y1="347.4" x2="433.4" y2="335.7" stroke-width="2.21"/>
<line x1="426.2" y1="350.9" x2="436.4" y2="338.3" stroke-width="2.21"/>
<line x1="428.9" y1="354.7" x2="439.3" y2="341.2" stroke-width="2.21"/>
<line x1="431.5" y1="358.7" x2="442.2" y2="344.6" stroke-width="2.21"/>
<line x1="433.8" y1="362.9" x2="445.0" y2="348.3" stroke-width="2.21"/>
<line x1="435.9" y1="367.3" x2="447.6" y2="352.2" stroke-width="2.21"/>
<line x1="437.8" y1="371.8" x2="450.0" y2="356.4" stroke-width="2.21"/>
<line x1="439.3" y1="376.3" x2="452.2" y2="360.8" stroke-width="2.21"/>
<line x1="440.6" y1="380.7" x2="454.2" y2="365.2" stroke-width="2.21"/>
<line x1="441.5" y1="385.0" x2="455.8" y2="369.7" stroke-width="2.21"/>
<line x1="442.1" y1="389.2" x2="457.2" y2="374.1" stroke-width="2.21"/>
<line x1="442.3" y1="393.1" x2="458.2" y2="378.5" stroke-width="2.21"/>
<line x1="442.2" y1="396.7" x2="458.9" y2="382.7" stroke-width="2.21"/>
<line x1="441.7" y1="400.0" x2="459.3" y2="386.7" stroke-width="2.21"/>
<line x1="440.8" y1="402.9" x2="459.3" y2="390.5" stroke-width="2.21"/>
<line x1="439.7" y1="405.4" x2="458.9" y2="393.9" stroke-width="2.21"/>
<line x1="438.2" y1="407.4" x2="458.2" y2="396.9" stroke-width="2.21"/>
<line x1="436.4" y1="409.0" x2="457.1" y2="399.6" stroke-width="2.21"/>
<line x1="434.4" y1="410.0" x2="455.7" y2="401.8" stroke-width="2.21"/>
<line x1="432.1" y1="410.5" x2="454.1" y2="403.5" stroke-width="2.21"/>
<ellipse cx="417.1" cy="372.85" rx="19.40" ry="41.03" transform="rotate(-26.4 417.1 372.85)" stroke="none" fill="#fff"/>
<path d="M405.9,335.4 L407.5,335.8 L409.2,336.4 L411.0,337.2 L412.8,338.2 L414.6,339.3 L416.4,340.7 L418.2,342.2 L420.0,343.8 L421.8,345.7 L423.6,347.6 L425.3,349.7 L427.0,351.9 L428.6,354.2 L430.2,356.6 L431.7,359.1 L433.2,361.7 L434.5,364.3 L435.8,367.0 L436.9,369.7 L438.0,372.4 L439.0,375.1 L439.8,377.8 L440.5,380.5 L441.1,383.1 L441.6,385.7 L442.0,388.2 L442.2,390.7 L442.3,393.0 L442.3,395.3 L442.1,397.4 L441.8,399.4 L441.4,401.2 L440.8,403.0 L440.2,404.5 L439.4,405.9 L438.5,407.1 L437.4,408.2 L436.3,409.1 L435.1,409.7 L433.8,410.2" stroke-width="1.69" fill="none" />
<path d="M433.8,410.2 L432.7,410.5 L431.5,410.6 L430.3,410.6 L429.1,410.5 L427.8,410.2 L426.5,409.9 L425.2,409.4 L423.8,408.8 L422.4,408.1 L421.0,407.3 L419.6,406.3 L418.2,405.3 L416.7,404.1 L415.3,402.9 L413.9,401.5 L412.5,400.1 L411.1,398.6 L409.7,397.0 L408.3,395.3 L407.0,393.5 L405.7,391.7 L404.5,389.8 L403.3,387.9 L402.1,385.9 L401.0,383.9 L399.9,381.8 L398.9,379.7 L397.9,377.6 L397.0,375.5 L396.2,373.3 L395.4,371.2 L394.7,369.0 L394.1,366.9 L393.6,364.8 L393.1,362.7 L392.7,360.7 L392.4,358.7 L392.1,356.7 L392.0,354.8 L391.9,353.0 L391.9,351.2 L392.0,349.5 L392.2,347.8 L392.4,346.3 L392.7,344.8 L393.1,343.4 L393.6,342.1 L394.2,340.9 L394.8,339.8 L395.5,338.8 L396.3,338.0 L397.1,337.2 L398.0,336.6 L399.0,336.0 L400.0,335.6 L401.1,335.3 L402.2,335.2 L403.4,335.1 L404.6,335.2 L405.9,335.4" stroke-width="1.5" stroke-dasharray="2.2 1.3" stroke-linecap="butt" fill="none"/>
<ellipse cx="416.4" cy="373.7" rx="5.2" ry="10.6" transform="rotate(-26.41435647719579 416.4 373.7)" stroke-width="1.43" fill="#fff"/>
<path d="M408.5,364.8 L417.5,366.2 M410,368.5 L419,370 M411,372.5 L416.5,373.7" stroke-width="1.3" fill="none" />
<path d="M416.7,377.9 L416.5,377.6 L416.3,377.3 L416.0,376.9 L415.8,376.6 L415.6,376.2 L415.4,375.9 L415.2,375.5 L415.0,375.1 L414.8,374.8 L414.6,374.4 L414.5,374.0 L414.3,373.6 L414.1,373.3 L414.0,372.9 L413.9,372.5 L413.7,372.1 L413.6,371.7 L413.5,371.3 L413.4,371.0 L413.3,370.6 L413.2,370.2 L413.1,369.8 L413.1,369.5 L413.0,369.1 L413.0,368.8 L412.9,368.4 L412.9,368.1 L412.9,367.7 L412.9,367.4 L412.9,367.1 L412.9,366.7 L412.9,366.4 L413.0,366.1 L413.0,365.9 L413.1,365.6 L413.1,365.3 L413.2,365.1 L413.3,364.8 L413.4,364.6 L413.5,364.4" stroke-width="1.3" fill="none" />
<line x1="380" y1="389" x2="416.5" y2="373.8" stroke-width="1.56"/>
<ellipse cx="480.1" cy="349" rx="10.8" ry="15.4" transform="rotate(-38 480.1 349)" stroke-width="1.69" fill="#fff"/>
<ellipse cx="481.2" cy="349.4" rx="9.2" ry="13.6" transform="rotate(-38 481.2 349.4)" stroke-width="2.6" fill="none"/>
<ellipse cx="480.6" cy="350" rx="7.4" ry="11.4" transform="rotate(-38 480.6 350)" stroke-width="1.3" fill="#fff"/>
<path d="M476,360.5 L480,363.5 L486,362 L487.5,358" stroke-width="2.08" fill="none" />
<line x1="466" y1="352" x2="478.9" y2="346.4" stroke-width="1.56"/>
<path d="M512.2,311.7 L522.0,307.9 A10.06,20.30 -30.688227438250678 0 1 541.2,343.6 L531.4,347.3 A10.06,20.30 -30.688227438250678 0 1 512.2,311.7 Z" stroke-width="1.69" fill="#fff" />
<ellipse cx="521.8" cy="329.5" rx="10.06" ry="20.303936545246135" transform="rotate(-30.688227438250678 521.8 329.5)" stroke-width="1.69" fill="#fff"/>
<ellipse cx="521.5" cy="329.9" rx="4.4" ry="9.4" transform="rotate(-30.688227438250678 521.5 329.9)" stroke-width="1.43" fill="#fff"/>
<line x1="505" y1="335" x2="527.1" y2="325.7" stroke-width="1.56"/>
<path d="M450.4,482.3 L461.2,478.4 A9.93,19.98 -28.362057720585454 0 1 478.8,514.1 L468.0,518.1 A9.93,19.98 -28.362057720585454 0 1 450.4,482.3 Z" stroke-width="1.69" fill="#fff" />
<ellipse cx="459.2" cy="500.2" rx="9.93" ry="19.97582081644647" transform="rotate(-28.362057720585454 459.2 500.2)" stroke-width="1.69" fill="#fff"/>
<ellipse cx="458.9" cy="500.5" rx="4.2" ry="9.2" transform="rotate(-28.362057720585454 458.9 500.5)" stroke-width="1.43" fill="#fff"/>
<line x1="431.9" y1="511.5" x2="459.5" y2="499" stroke-width="1.56"/>
<line x1="478.3" y1="490.8" x2="496.5" y2="483.3" stroke-width="1.56"/>
<line x1="705" y1="392.5" x2="731" y2="379.5" stroke-width="1.56"/>
<path d="M677.5,397.1 L696.6,389.1 A4.61,7.20 -40 0 1 704.4,401.1 L685.5,409.6 A4.80,7.50 -40 0 1 677.5,397.1 Z" stroke-width="1.56" fill="#fff" />
<ellipse cx="681.5" cy="403.4" rx="4.8" ry="7.5" transform="rotate(-40 681.5 403.4)" stroke-width="1.56" fill="#fff"/>
<path d="M649.9,395.2 L671.0,387.2 A12.48,19.50 -40 0 1 692.0,419.5 L672.1,429.3 A13.12,20.50 -40 0 1 649.9,395.2 Z" stroke-width="1.56" fill="#fff" />
<ellipse cx="661" cy="412.2" rx="13.12" ry="20.5" transform="rotate(-40 661 412.2)" stroke-width="1.56" fill="#fff"/>
<line x1="648.2" y1="396.3" x2="669.3" y2="388.1" stroke-width="1.3"/>
<line x1="650.6" y1="395.0" x2="671.7" y2="386.9" stroke-width="1.3"/>
<line x1="653.6" y1="394.4" x2="674.4" y2="386.4" stroke-width="1.3"/>
<line x1="656.8" y1="394.7" x2="677.5" y2="386.6" stroke-width="1.3"/>
<line x1="660.2" y1="395.7" x2="680.8" y2="387.6" stroke-width="1.3"/>
<line x1="663.7" y1="397.4" x2="684.1" y2="389.3" stroke-width="1.3"/>
<line x1="667.0" y1="399.8" x2="687.2" y2="391.5" stroke-width="1.3"/>
<line x1="670.1" y1="402.7" x2="690.2" y2="394.3" stroke-width="1.3"/>
<line x1="672.8" y1="406.1" x2="692.7" y2="397.5" stroke-width="1.3"/>
<line x1="675.0" y1="409.7" x2="694.8" y2="400.9" stroke-width="1.3"/>
<line x1="676.5" y1="413.4" x2="696.2" y2="404.5" stroke-width="1.3"/>
<line x1="677.4" y1="417.1" x2="697.1" y2="408.0" stroke-width="1.3"/>
<line x1="677.5" y1="420.6" x2="697.2" y2="411.2" stroke-width="1.3"/>
<line x1="677.0" y1="423.6" x2="696.7" y2="414.2" stroke-width="1.3"/>
<line x1="675.7" y1="426.2" x2="695.5" y2="416.7" stroke-width="1.3"/>
<path d="M635.8,397.1 L644.3,394.5 A15.04,23.50 -40 0 1 669.7,433.5 L662.2,437.8 A15.68,24.50 -40 0 1 635.8,397.1 Z" stroke-width="1.56" fill="#fff" />
<ellipse cx="649" cy="417.5" rx="15.68" ry="24.5" transform="rotate(-40 649 417.5)" stroke-width="1.56" fill="#fff"/>
<path d="M627.6,399.1 L636.5,396.3 A16.00,25.00 -40 0 1 663.5,437.8 L655.6,442.2 A16.64,26.00 -40 0 1 627.6,399.1 Z" stroke-width="1.56" fill="#fff" />
<ellipse cx="641.6" cy="420.7" rx="16.64" ry="26" transform="rotate(-40 641.6 420.7)" stroke-width="1.56" fill="#fff"/>
<path d="M566.8,421.2 L626.2,396.9 A18.30,28.60 -40 0 1 657.0,444.4 L599.2,471.0 A19.20,30.00 -40 0 1 566.8,421.2 Z" stroke-width="1.56" fill="#fff" />
<ellipse cx="583" cy="446.1" rx="19.2" ry="30" transform="rotate(-40 583 446.1)" stroke-width="1.56" fill="#fff"/>
<line x1="579.6" y1="416.2" x2="628.7" y2="396.1" stroke-width="1.43"/>
<line x1="581.9" y1="415.9" x2="630.9" y2="395.8" stroke-width="1.43"/>
<line x1="590.5" y1="417.2" x2="639.2" y2="397.1" stroke-width="1.43"/>
<line x1="593.2" y1="418.3" x2="641.8" y2="398.1" stroke-width="1.43"/>
<line x1="602.1" y1="423.9" x2="650.3" y2="403.6" stroke-width="1.43"/>
<line x1="604.5" y1="426.2" x2="652.6" y2="405.7" stroke-width="1.43"/>
<line x1="611.5" y1="434.9" x2="659.3" y2="414.0" stroke-width="1.43"/>
<line x1="613.1" y1="437.7" x2="660.9" y2="416.8" stroke-width="1.43"/>
<line x1="616.6" y1="447.4" x2="664.2" y2="426.1" stroke-width="1.43"/>
<line x1="617.0" y1="450.2" x2="664.6" y2="428.7" stroke-width="1.43"/>
<line x1="616.4" y1="457.9" x2="664.0" y2="436.2" stroke-width="1.43"/>
<line x1="615.6" y1="460.1" x2="663.3" y2="438.2" stroke-width="1.43"/>
<path d="M571.6,421.4 L572.6,420.1 L573.8,418.9 L575.2,418.0 L576.7,417.2 L578.3,416.5 L580.0,416.1 L581.8,415.9 L583.7,415.9 L585.7,416.0 L587.7,416.4 L589.8,416.9 L591.9,417.7 L594.0,418.6 L596.1,419.7 L598.1,421.0 L600.2,422.4 L602.2,424.0 L604.1,425.7 L605.9,427.6 L607.6,429.5 L609.2,431.5 L610.7,433.7 L612.1,435.8 L613.3,438.0 L614.3,440.3 L615.2,442.6 L616.0,444.8 L616.5,447.0 L616.9,449.2 L617.1,451.4 L617.1,453.4 L616.9,455.4 L616.5,457.3 L616.0,459.0 L615.3,460.6 L614.4,462.1 L613.4,463.4 L612.2,464.6 L610.8,465.6 L609.3,466.4" stroke-width="1.56" fill="none" />
<ellipse cx="544.6" cy="462.5" rx="33" ry="51.5" transform="rotate(-40 544.6 462.5)" stroke-width="0.01" fill="#fff"/>
<ellipse cx="557.6" cy="457.3" rx="33" ry="51.5" transform="rotate(-40 557.6 457.3)" stroke-width="0.01" fill="#fff"/>
<path d="M521.4,453.6 L503.0,446.6 L516.0,441.4 L534.4,448.4 Z" stroke-width="1.76" fill="#fff" />
<path d="M521.5,450.0 L503.1,440.3 L516.1,435.1 L534.5,444.8 Z" stroke-width="1.76" fill="#fff" />
<path d="M521.9,457.3 L504.0,453.4 L517.0,448.2 L534.9,452.1 Z" stroke-width="1.76" fill="#fff" />
<path d="M522.1,446.8 L504.3,434.5 L517.3,429.3 L535.1,441.6 Z" stroke-width="1.76" fill="#fff" />
<path d="M523.0,461.2 L505.9,460.4 L518.9,455.2 L536.0,456.0 Z" stroke-width="1.76" fill="#fff" />
<path d="M523.2,443.9 L506.4,429.4 L519.4,424.2 L536.2,438.7 Z" stroke-width="1.76" fill="#fff" />
<path d="M524.6,465.2 L508.8,467.4 L521.8,462.2 L537.6,460.0 Z" stroke-width="1.76" fill="#fff" />
<path d="M524.9,441.5 L509.4,425.0 L522.4,419.8 L537.9,436.3 Z" stroke-width="1.76" fill="#fff" />
<path d="M526.8,469.0 L512.5,474.3 L525.5,469.1 L539.8,463.8 Z" stroke-width="1.76" fill="#fff" />
<path d="M527.1,439.7 L513.3,421.7 L526.3,416.5 L540.1,434.5 Z" stroke-width="1.76" fill="#fff" />
<path d="M529.3,472.7 L517.1,480.9 L530.1,475.7 L542.3,467.5 Z" stroke-width="1.76" fill="#fff" />
<path d="M529.7,438.3 L518.0,419.3 L531.0,414.1 L542.7,433.1 Z" stroke-width="1.76" fill="#fff" />
<path d="M532.2,476.2 L522.3,487.1 L535.3,481.9 L545.2,471.0 Z" stroke-width="1.76" fill="#fff" />
<path d="M532.7,437.6 L523.4,418.0 L536.4,412.8 L545.7,432.4 Z" stroke-width="1.76" fill="#fff" />
<path d="M535.5,479.3 L528.1,492.6 L541.1,487.4 L548.5,474.1 Z" stroke-width="1.76" fill="#fff" />
<path d="M536.0,437.5 L529.2,417.8 L542.2,412.6 L549.0,432.3 Z" stroke-width="1.76" fill="#fff" />
<path d="M538.9,482.0 L534.3,497.4 L547.3,492.2 L551.9,476.8 Z" stroke-width="1.76" fill="#fff" />
<path d="M539.4,438.0 L535.5,418.6 L548.5,413.4 L552.4,432.8 Z" stroke-width="1.76" fill="#fff" />
<path d="M542.5,484.2 L540.7,501.4 L553.7,496.2 L555.5,479.0 Z" stroke-width="1.76" fill="#fff" />
<path d="M543.0,439.1 L542.0,420.6 L555.0,415.4 L556.0,433.9 Z" stroke-width="1.76" fill="#fff" />
<path d="M546.2,485.9 L547.2,504.4 L560.2,499.2 L559.2,480.7 Z" stroke-width="1.76" fill="#fff" />
<path d="M546.7,440.8 L548.5,423.6 L561.5,418.4 L559.7,435.6 Z" stroke-width="1.76" fill="#fff" />
<path d="M549.8,487.0 L553.7,506.4 L566.7,501.2 L562.8,481.8 Z" stroke-width="1.76" fill="#fff" />
<path d="M550.3,443.0 L554.9,427.6 L567.9,422.4 L563.3,437.8 Z" stroke-width="1.76" fill="#fff" />
<path d="M553.2,487.5 L560.0,507.2 L573.0,502.0 L566.2,482.3 Z" stroke-width="1.76" fill="#fff" />
<path d="M553.7,445.7 L561.1,432.4 L574.1,427.2 L566.7,440.5 Z" stroke-width="1.76" fill="#fff" />
<path d="M556.5,487.4 L565.8,507.0 L578.8,501.8 L569.5,482.2 Z" stroke-width="1.76" fill="#fff" />
<path d="M557.0,448.8 L566.9,437.9 L579.9,432.7 L570.0,443.6 Z" stroke-width="1.76" fill="#fff" />
<path d="M559.5,486.7 L571.2,505.7 L584.2,500.5 L572.5,481.5 Z" stroke-width="1.76" fill="#fff" />
<path d="M559.9,452.3 L572.1,444.1 L585.1,438.9 L572.9,447.1 Z" stroke-width="1.76" fill="#fff" />
<path d="M562.1,485.3 L575.9,503.3 L588.9,498.1 L575.1,480.1 Z" stroke-width="1.76" fill="#fff" />
<path d="M562.4,456.0 L576.7,450.7 L589.7,445.5 L575.4,450.8 Z" stroke-width="1.76" fill="#fff" />
<path d="M564.3,483.5 L579.8,500.0 L592.8,494.8 L577.3,478.3 Z" stroke-width="1.76" fill="#fff" />
<path d="M564.6,459.8 L580.4,457.6 L593.4,452.4 L577.6,454.6 Z" stroke-width="1.76" fill="#fff" />
<path d="M566.0,481.1 L582.8,495.6 L595.8,490.4 L579.0,475.9 Z" stroke-width="1.76" fill="#fff" />
<path d="M566.2,463.8 L583.3,464.6 L596.3,459.4 L579.2,458.6 Z" stroke-width="1.76" fill="#fff" />
<path d="M567.1,478.2 L584.9,490.5 L597.9,485.3 L580.1,473.0 Z" stroke-width="1.76" fill="#fff" />
<path d="M567.3,467.7 L585.2,471.6 L598.2,466.4 L580.3,462.5 Z" stroke-width="1.76" fill="#fff" />
<path d="M567.7,475.0 L586.1,484.7 L599.1,479.5 L580.7,469.8 Z" stroke-width="1.76" fill="#fff" />
<path d="M567.8,471.4 L586.2,478.4 L599.2,473.2 L580.8,466.2 Z" stroke-width="1.76" fill="#fff" />
<ellipse cx="544.6" cy="462.5" rx="18.7" ry="29.4" transform="rotate(-40 544.6 462.5)" stroke-width="1.69" fill="#fff"/>
<ellipse cx="545" cy="462.6" rx="14.6" ry="22.6" transform="rotate(-40 545 462.6)" stroke-width="1.43" fill="none"/>
<ellipse cx="546.5" cy="461.8" rx="9.4" ry="14.6" transform="rotate(-40 546.5 461.8)" stroke-width="2.86" fill="none"/>
<ellipse cx="546.2" cy="462" rx="7.4" ry="11.6" transform="rotate(-40 546.2 462)" stroke-width="1.3" fill="#fff"/>
<path d="M528.6,461.0 L541.6,455.4 A5.25,8.20 -40 0 1 550.4,469.0 L537.4,474.6 A5.25,8.20 -40 0 1 528.6,461.0 Z" stroke-width="1.56" fill="#fff" />
<ellipse cx="533" cy="467.8" rx="5.25" ry="8.2" transform="rotate(-40 533 467.8)" stroke-width="1.56" fill="#fff"/>
<path d="M492.9,478.5 L529.6,462.6 A4.03,6.30 -40 0 1 536.4,473.0 L499.7,489.0 A4.03,6.30 -40 0 1 492.9,478.5 Z" stroke-width="1.56" fill="#fff" />
<ellipse cx="496.3" cy="483.7" rx="4.03" ry="6.3" transform="rotate(-40 496.3 483.7)" stroke-width="1.56" fill="#fff"/>
<line x1="478.3" y1="490.8" x2="496.5" y2="483.3" stroke-width="1.56"/>
<line x1="705" y1="391.4" x2="731.4" y2="379.5" stroke-width="1.56"/>
<line x1="753.3" y1="370.1" x2="799.1" y2="349.4" stroke-width="1.56"/>
<path d="M721.5,361.1 L730.8,358.3 A12.71,19.78 -37.0392809522491 0 1 749.4,392.5 L740.0,395.4 A12.71,19.78 -37.0392809522491 0 1 721.5,361.1 Z" stroke-width="1.69" fill="#fff" />
<ellipse cx="730.8" cy="378.2" rx="12.71" ry="19.78479491165233" transform="rotate(-37.0392809522491 730.8 378.2)" stroke-width="1.69" fill="#fff"/>
<ellipse cx="731.95" cy="377.95" rx="11.818206776994762" ry="18.399859267836668" transform="rotate(-37.0392809522491 731.95 377.95)" stroke-width="1.3" fill="none"/>
<ellipse cx="730.4" cy="379.5" rx="5.2" ry="7.2" transform="rotate(-37.0392809522491 730.4 379.5)" stroke-width="1.43" fill="#fff"/>
<line x1="710" y1="389.2" x2="731.4" y2="379.5" stroke-width="1.56"/>
<path d="M872.5,299.8 C874.9,300.5 882.2,300.9 886.7,303.7 C891.1,306.6 896.2,312.2 899.2,317.1 C902.2,321.9 904.4,328.3 904.7,332.8 C905.0,337.2 903.1,340.5 900.8,343.8 C898.4,347.0 892.3,351.0 890.6,352.4" stroke-width="1.56" fill="#fff" />
<path d="M875.7,303.7 C877.5,304.5 883.5,306.2 886.7,308.4 C889.8,310.7 892.3,313.3 894.5,317.1 C896.7,320.9 899.5,327.0 900.0,331.2 C900.5,335.4 899.1,339.3 897.6,342.2 C896.2,345.1 892.4,347.4 891.4,348.5" stroke-width="1.3" fill="none" />
<path d="M759.5,317.1 L759.5,312.4 L823.9,280.4 L823.9,280.4 C824.9,280.1 826.5,279.1 830.2,279.1 C833.8,279.2 840.6,279.1 845.9,280.7 C851.1,282.3 856.8,285.4 861.5,288.8 C866.3,292.3 870.4,296.9 874.1,301.4 C877.8,305.8 881.3,311.8 883.5,315.5 C885.7,319.2 886.8,322.1 887.4,323.4 L887.9,358.7 L885.1,362.6 L834.1,385.3 L834.1,385.3 C832.4,386.3 828.5,390.7 823.9,391.2 C819.3,391.6 812.6,389.9 806.6,388.0 C800.6,386.1 793.0,382.8 787.8,379.9 C782.6,376.9 777.3,372.0 775.2,370.4 Z" stroke-width="1.69" fill="#fff" />
<path d="M834.1,343.0 L885.1,321.0 L887.4,323.4 L887.4,335.9 L834.9,357.1 Z" stroke-width="1.56" fill="#fff" />
<path d="M834.9,357.1 L883.5,338.3 L883.5,345.3 L834.1,364.2 Z" stroke-width="1.3" fill="#fff" />
<path d="M834.1,367.3 L887.4,346.1 L887.4,358.7 L885.1,361.0 L834.1,383.0 Z" stroke-width="1.56" fill="#fff" />
<line x1="834.0853735091023" y1="383.9359698681733" x2="885.0897677338355" y2="361.65097300690525" stroke-width="1.17"/>
<line x1="834.0853735091023" y1="384.7206528562461" x2="885.0897677338355" y2="362.2787193973635" stroke-width="1.17"/>
<line x1="834.0853735091023" y1="385.5053358443189" x2="885.0897677338355" y2="362.90646578782173" stroke-width="1.17"/>
<line x1="834.0853735091023" y1="386.2900188323917" x2="885.0897677338355" y2="363.53421217828" stroke-width="1.17"/>
<line x1="834.556183301946" y1="365.10357815442563" x2="884.3050847457628" y2="345.3295668549906" stroke-width="1.17"/>
<line x1="834.556183301946" y1="366.045197740113" x2="884.3050847457628" y2="346.1142498430634" stroke-width="1.17"/>
<line x1="834.0853735091023" y1="342.97551789077215" x2="834.0853735091023" y2="386.13308223477713" stroke-width="1.56"/>
<path d="M759.5,312.4 C761.1,311.2 765.0,306.9 769.0,305.3 C772.9,303.7 778.1,302.7 783.1,303.0 C788.1,303.2 794.1,304.8 798.8,306.9 C803.5,309.0 807.1,312.1 811.3,315.5 C815.5,318.9 820.7,323.9 823.9,327.3 C827.0,330.7 828.5,333.2 830.2,335.9 C831.9,338.7 833.4,342.5 834.1,343.8" stroke-width="1.56" fill="none" />
<path d="M762.7,315.8 C764.2,314.7 768.7,310.6 772.1,309.2 C775.5,307.9 778.9,307.3 783.1,307.7 C787.3,308.1 792.8,309.4 797.2,311.6 C801.7,313.8 805.8,317.5 809.8,321.0 C813.7,324.5 817.9,329.0 820.7,332.8 C823.6,336.6 825.5,339.6 827.0,343.8 C828.6,347.9 829.7,353.4 830.2,357.9 C830.6,362.3 830.4,366.8 829.8,370.4 C829.3,374.1 829.1,377.0 827.0,379.9 C825.0,382.7 821.0,386.0 817.6,387.4 C814.2,388.7 808.5,387.9 806.6,388.0" stroke-width="1.43" fill="none" />
<path d="M814.5,324.9 C813.3,325.8 809.2,328.1 807.4,330.4 C805.6,332.8 804.2,336.0 803.8,339.1 C803.4,342.1 804.1,345.6 805.1,348.5 C806.0,351.3 808.8,353.2 809.8,356.3 C810.8,359.5 811.4,363.6 811.0,367.3 C810.6,371.0 808.6,375.4 807.4,378.3 C806.2,381.2 803.9,382.9 803.8,384.6 C803.7,386.2 805.4,387.5 806.6,388.0 C807.9,388.5 809.2,388.7 811.3,387.4 C813.4,386.0 817.1,382.9 819.2,379.9 C821.3,376.8 823.1,372.3 823.9,368.9 C824.7,365.5 824.7,362.9 823.9,359.5 C823.1,356.1 820.9,351.9 819.2,348.5 C817.5,345.1 814.7,341.9 813.7,339.1 C812.7,336.2 813.1,333.6 813.2,331.2 C813.3,328.9 814.3,326.0 814.5,324.9" stroke-width="1.56" fill="#fff" />
<path d="M817.6,332.0 C818.0,333.2 818.7,336.6 820.0,339.1 C821.3,341.5 824.1,345.7 825.5,346.9 C826.8,348.1 827.7,347.4 827.8,346.1 C827.9,344.8 827.3,341.3 826.2,339.1 C825.2,336.8 823.0,334.0 821.5,332.8 C820.1,331.6 818.3,332.1 817.6,332.0 C817.0,331.9 817.2,330.8 817.6,332.0 Z" stroke-width="1.3" fill="#fff" />
<path d="M807.4,330.4 C807.8,331.9 808.6,336.0 809.8,339.1 C810.9,342.1 813.2,345.3 814.5,348.5 C815.8,351.6 817.0,354.5 817.6,357.9 C818.2,361.3 818.4,365.2 817.9,368.9 C817.4,372.5 816.1,376.8 814.5,379.9 C812.8,382.9 809.2,385.7 808.2,386.9" stroke-width="1.3" fill="none" />
<path d="M798.8,312.7 C796.9,312.1 794.3,308.5 787.8,309.2 C781.3,310.0 766.3,313.9 759.5,317.1 C752.7,320.2 749.7,324.1 747.0,328.1 C744.2,332.0 743.1,336.2 743.1,340.6 C743.1,345.1 744.2,350.6 747.0,354.7 C749.7,358.9 754.8,363.1 759.5,365.7 C764.2,368.3 771.0,370.0 775.2,370.4 C779.4,370.9 782.8,369.6 784.7,368.6 C786.5,367.5 786.2,364.9 786.5,364.2" stroke-width="1.56" fill="#fff" />
<path d="M787.8,314.7 C784.0,315.9 770.3,318.5 765.0,321.5 C759.8,324.5 758.1,329.1 756.4,332.8 C754.7,336.5 754.0,339.8 754.8,343.8 C755.6,347.7 758.2,352.9 761.1,356.3 C764.0,359.7 768.4,362.5 772.1,364.2 C775.8,365.8 781.3,365.7 783.1,366.0" stroke-width="1.43" fill="none" />
<path d="M783.1,317.1 C781.1,317.9 774.6,319.2 771.3,321.8 C768.0,324.4 764.8,328.9 763.5,332.8 C762.2,336.7 762.3,341.1 763.5,345.3 C764.6,349.5 767.0,354.7 770.5,357.9 C774.1,361.1 782.3,363.5 784.7,364.6" stroke-width="1.3" fill="none" />
<path d="M786.2,319.0 C784.5,320.2 778.4,323.1 776.0,326.5 C773.6,329.8 771.9,334.6 771.8,339.1 C771.7,343.5 772.8,348.7 775.2,353.2 C777.6,357.6 784.4,363.6 786.2,365.7" stroke-width="1.43" fill="none" />
<path d="M766.6,346.9 C767.1,347.9 768.0,351.0 769.7,353.2 C771.4,355.4 774.3,358.4 776.8,360.2 C779.3,362.1 783.3,363.5 784.7,364.2" stroke-width="1.3" fill="none" />
<line x1="761.1098556183302" y1="316.45323289391087" x2="798.7746390458254" y2="309.2341494036409" stroke-width="1.3"/>
<line x1="784.6503452605148" y1="362.5925925925926" x2="808.5047080979284" y2="353.9610797237916" stroke-width="1.17"/>
<line x1="784.6503452605148" y1="363.69114877589453" x2="808.5047080979284" y2="355.05963590709354" stroke-width="1.17"/>
<line x1="784.6503452605148" y1="364.78970495919646" x2="808.5047080979284" y2="356.15819209039546" stroke-width="1.17"/>
<line x1="784.6503452605148" y1="365.88826114249844" x2="808.5047080979284" y2="357.25674827369744" stroke-width="1.17"/>
<line x1="751.6936597614564" y1="369.65473948524794" x2="799.5593220338983" y2="350.0376647834275" stroke-width="1.56"/>
<path d="M631.2,104.5 L647.0,89.5 L667.0,92.5 L676.2,112.5 L660.0,128.8 L640.0,125.0 Z" stroke-width="1.69" fill="#fff" />
<path d="M631.2,104.5 L653.0,108.8 L667.0,92.5 M653.0,108.8 L660.0,128.8" stroke-width="1.56" fill="none" />
<path d="M637.0,99.5 L648.0,91.2 L662.0,94.0 L651.2,103.0 Z" stroke-width="2.08" fill="#888" />
<path d="M641.2,99.0 L648.5,93.5 L657.5,95.2 L650.5,101.0 Z" stroke-width="1.56" fill="#fff" />
<path d="M644.5,98.2 L649.0,95.0 L654.0,96.0 L650.0,99.5 Z" stroke-width="1.3" fill="#555" />
<path d="M638.8,111.2 L645.0,110.5 L648.0,114.0 L646.5,116.5 L640.5,116.5 L638.0,114.0 Z" stroke-width="1.43" fill="#fff" />
<line x1="645.0" y1="110.5" x2="646.5" y2="116.5" stroke-width="1.17"/>
<path d="M648.0,126.5 L660.0,129.2" stroke-width="2.6" fill="none" />
<line x1="663.75" y1="125.5" x2="666.5" y2="133.0" stroke-width="1.43"/>
<line x1="667.0" y1="122.0" x2="668.75" y2="125.0" stroke-width="1.3"/>
<path d="M660.0,147.0 L671.2,138.8 L678.0,141.2 L685.0,156.2 L674.5,164.5 L667.5,162.5 Z" stroke-width="1.69" fill="#fff" />
<path d="M660.0,147.0 L667.5,150.0 L678.0,141.2 M667.5,150.0 L674.5,164.5" stroke-width="1.56" fill="none" />
<path d="M686.2,163.2 L671.2,172.0 L692.5,175.0 L675.0,183.8 L695.0,182.5 L680.0,190.0 L693.0,188.5 L684.5,193.5 L691.5,195.0 L687.0,191.5" stroke-width="1.43" fill="none" />
<path d="M679.5,163.8 C679.7,165.2 679.8,169.4 680.5,172.5 C681.2,175.6 682.6,179.1 683.8,182.5 C684.9,185.9 686.9,191.2 687.5,193.0" stroke-width="1.3" fill="none" />
<path d="M682.5,163.0 C682.9,164.6 684.1,169.0 685.0,172.5 C685.9,176.0 687.2,180.4 688.0,183.8 C688.8,187.1 689.7,191.0 690.0,192.5" stroke-width="1.3" fill="none" />
<path d="M679.7,202.7 L700.7,209.3 L699.9,212.6 L679.3,205.7 Z" stroke-width="1.43" fill="#fff" />
<path d="M685.7,230.4 L705.9,237.1 L705.6,240.1 L685.4,233.5 Z" stroke-width="1.43" fill="#fff" />
<path d="M699.9,210.2 L707.4,205.2 L734.4,213.5 L741.1,249.4 L731.7,255.4 L705.2,247.2 L704.7,244.2 L706.7,243.4 L702.2,216.4 L699.2,214.2 Z" stroke-width="1.69" fill="#fff" />
<path d="M699.9,210.2 L725.1,218.7 L734.4,213.5 M725.1,218.7 L731.7,255.4" stroke-width="1.56" fill="none" />
<path d="M946.0,603.0 C946.6,601.4 948.8,598.4 951.5,596.2 C954.2,594.1 962.9,588.9 966.0,587.0 C969.1,585.1 972.5,582.5 974.8,582.0 C977.0,581.5 981.3,582.6 983.0,583.5 C984.7,584.4 987.3,587.2 987.8,588.8 C988.2,590.3 988.4,593.0 986.5,595.0 C984.6,597.0 976.9,601.7 973.5,604.0 C970.1,606.3 963.8,610.9 961.0,612.0 C958.2,613.1 954.4,612.5 952.5,612.0 C950.6,611.5 947.6,609.7 946.8,608.5 C945.9,607.3 945.4,604.6 946.0,603.0 Z" stroke-width="1.69" fill="#fff" />
<path d="M946.8,604.5 C947.5,604.9 951.9,607.1 953.5,607.5 C955.1,607.9 958.8,608.5 960.2,608.2 C961.7,608.0 964.1,606.3 966.0,605.0 C967.9,603.7 974.0,599.2 976.5,597.5 C979.0,595.8 986.2,590.9 987.5,590.0" stroke-width="1.43" fill="none" />
<path d="M961.0,592.0 C961.7,592.6 963.4,595.2 965.0,595.8 C966.6,596.3 969.0,596.0 970.5,595.2 C972.0,594.5 973.4,591.7 974.0,591.0" stroke-width="1.3" fill="none" />
<ellipse cx="981" cy="592" rx="3.4" ry="2.4" transform="rotate(-30 981 592)" stroke-width="1.56" fill="none"/>
<ellipse cx="960.6" cy="607.2" rx="3.4" ry="2.4" transform="rotate(-30 960.6 607.2)" stroke-width="1.56" fill="none"/>
<path d="M740.0,551.2 L765.0,538.8 L783.8,543.8 L783.8,547.5 L775.0,551.2 L757.5,558.0 Z" stroke-width="1.56" fill="#fff" />
<line x1="762.5" y1="541.5" x2="777.0" y2="546.5" stroke-width="1.3"/>
<line x1="745.5" y1="552.0" x2="768.0" y2="542.0" stroke-width="1.3"/>
<line x1="777.0" y1="546.5" x2="776.25" y2="550.5" stroke-width="1.3"/>
<path d="M705.0,560.0 L707.5,550.5 L724.5,543.8 L777.5,565.8 L776.5,572.5 L757.5,581.5 Z" stroke-width="1.69" fill="#fff" />
<path d="M707.5,551.0 L760.0,571.2 L777.5,566.0 M760.0,571.2 L757.5,581.2" stroke-width="1.56" fill="none" />
<line x1="706.5" y1="555.0" x2="759.0" y2="575.5" stroke-width="1.3"/>
<line x1="713.75" y1="548.5" x2="755.0" y2="565.0" stroke-width="1.17"/>
<path d="M763.8,574.0 L772.5,570.0 L773.0,571.5 L766.2,576.5 Z" stroke-width="1.3" fill="none" />
<path d="M829.3,568.2 L845.4,559.5 L877.0,540.5 L900.2,550.4 L906.5,593.9 L866.5,619.1 L864.4,615.6 L859.5,612.8 L853.2,579.8 Z" stroke-width="1.69" fill="#fff" />
<path d="M844.7,559.8 L867.2,570.7 L900.2,550.4" stroke-width="1.56" fill="none" />
<path d="M846.1,558.1 L868.6,568.7" stroke-width="1.3" fill="none" />
<path d="M867.2,570.7 L868.0,573.8" stroke-width="1.3" fill="none" />
<path d="M829.3,568.2 L851.8,579.1 L867.2,570.7" stroke-width="1.43" fill="none" />
<path d="M851.8,579.1 L859.5,614.2" stroke-width="1.56" fill="none" />
<path d="M856.2,590.6 L866.9,585.0" stroke-width="1.43" fill="none" />
<path d="M856.8,593.4 L867.5,587.8" stroke-width="1.3" fill="none" />
<path d="M856.2,596.0 L866.9,590.4" stroke-width="1.43" fill="none" />
<path d="M856.8,598.8 L867.5,593.2" stroke-width="1.3" fill="none" />
<path d="M856.2,601.3 L866.9,595.7" stroke-width="1.43" fill="none" />
<path d="M856.8,604.1 L867.5,598.5" stroke-width="1.3" fill="none" />
<path d="M856.2,606.6 L866.9,601.0" stroke-width="1.43" fill="none" />
<path d="M856.8,609.4 L867.5,603.8" stroke-width="1.3" fill="none" />
<path d="M866.9,584.0 L868.6,605.8" stroke-width="1.3" fill="none" />
<path d="M859.5,612.8 L864.4,610.0 L866.5,619.1" stroke-width="1.3" fill="none" />
<path d="M797.7,585.4 C798.1,584.9 795.3,585.0 799.8,581.9 C804.4,578.8 820.5,569.1 825.1,566.8 C829.7,564.4 827.1,567.2 827.6,567.9 C828.1,568.5 828.1,570.2 828.2,570.7" stroke-width="1.69" fill="#fff" />
<path d="M798.0,585.0 L799.8,581.9 L825.1,566.8 L827.9,569.6 L851.8,578.4 L859.5,617.7 L830.7,633.2 L825.1,633.2 L809.6,621.2 L804.0,589.6 L799.8,587.5 Z" stroke-width="1.69" fill="#fff" />
<path d="M798.0,585.0 C798.4,585.6 799.3,587.4 800.5,588.2 C801.8,589.1 802.5,589.1 805.4,590.1 C808.4,591.0 814.3,593.3 818.1,593.9 C821.8,594.4 826.3,593.5 827.9,593.4" stroke-width="1.56" fill="none" />
<path d="M827.9,593.4 L851.8,579.1" stroke-width="1.56" fill="none" />
<path d="M804.0,589.6 L809.6,621.2" stroke-width="1.56" fill="none" />
<path d="M823.7,594.3 C824.2,597.6 825.7,607.8 826.8,614.2 C827.8,620.6 829.5,629.4 830.0,632.5" stroke-width="1.43" fill="none" />
<path d="M834.9,589.6 C835.4,592.8 836.7,602.3 837.7,608.6 C838.8,614.9 840.6,624.4 841.2,627.5" stroke-width="1.43" fill="none" />
<path d="M806.8,579.1 L825.1,569.0 L845.4,578.4 L826.8,587.8 Z" stroke-width="1.43" fill="none" />
<path d="M809.6,579.4 L825.1,571.0 L841.9,578.4 L826.8,585.6 Z" stroke-width="1.17" fill="none" />
<path d="M824.4,582.2 L824.4,575.6 L830.7,574.9 L831.0,581.6" stroke-width="1.43" fill="#fff" />
<ellipse cx="827.6140350877193" cy="574.6315789473684" rx="3.2" ry="1.8" transform="rotate(0 827.6140350877193 574.6315789473684)" stroke-width="1.3" fill="#fff"/>
<path d="M824.4,582.2 C824.9,582.5 826.5,584.1 827.6,584.0 C828.7,583.9 830.4,582.0 831.0,581.6" stroke-width="1.3" fill="none" />
<path d="M832.1,576.3 L844.7,579.4" stroke-width="1.3" fill="none" />
<path d="M833.5,574.2 L846.1,577.7" stroke-width="1.3" fill="none" />
<path d="M875.6,587.4 L890.3,593.1 A7.82,9.20 25 0 1 883.4,610.1 L868.7,604.5 A7.82,9.20 25 0 1 875.6,587.4 Z" stroke-width="1.56" fill="#fff" />
<ellipse cx="887.5438596491229" cy="601.859649122807" rx="7.6" ry="9.0" transform="rotate(25 887.5438596491229 601.859649122807)" stroke-width="1.56" fill="#fff"/>
<path d="M879.3,608.2 L878.8,607.9 L878.4,607.5 L878.0,607.1 L877.7,606.6 L877.4,606.1 L877.1,605.6 L876.9,605.1 L876.7,604.5 L876.5,604.0 L876.4,603.4 L876.3,602.7 L876.3,602.1 L876.3,601.5 L876.3,600.9 L876.4,600.2 L876.5,599.6 L876.6,599.0 L876.8,598.4 L877.0,597.7 L877.3,597.2 L877.6,596.6 L878.0,596.0 L878.3,595.5 L878.7,595.0 L879.1,594.5 L879.6,594.1 L880.1,593.6 L880.6,593.3 L881.1,592.9 L881.6,592.6 L882.1,592.3 L882.7,592.1 L883.3,591.9 L883.8,591.8 L884.4,591.7 L885.0,591.6 L885.5,591.6 L886.1,591.7 L886.6,591.8 L887.2,591.9" stroke-width="1.3" fill="none" />
<line x1="872.5" y1="616.25" x2="872.5" y2="649" stroke-width="1.56"/>
<path d="M1071.8,674.1 C1070.5,675.7 1066.7,680.3 1064.0,683.6 C1061.3,687.0 1058.0,690.5 1055.5,694.2 C1053.0,697.9 1050.4,702.3 1049.2,705.8 C1047.9,709.4 1047.6,712.4 1048.1,715.4 C1048.6,718.4 1050.2,721.7 1052.3,723.8 C1054.4,725.9 1057.6,727.6 1060.8,728.1 C1064.0,728.5 1067.9,727.8 1071.4,726.6 C1074.9,725.3 1078.3,723.0 1082.0,720.6 C1085.7,718.2 1091.7,713.6 1093.6,712.2" stroke-width="1.69" fill="#fff" />
<path d="M1071.8,680.0 C1070.3,681.8 1065.4,687.8 1062.9,691.0 C1060.4,694.3 1058.7,696.3 1057.0,699.5 C1055.3,702.7 1053.4,706.9 1052.8,710.1 C1052.2,713.2 1052.6,716.2 1053.4,718.5 C1054.2,720.8 1055.9,722.8 1057.6,723.8 C1059.4,724.9 1061.3,725.1 1064.0,724.9 C1066.6,724.6 1070.1,723.8 1073.5,722.3 C1076.8,720.9 1081.1,718.0 1084.1,716.0 C1087.1,714.0 1090.3,711.4 1091.5,710.5" stroke-width="1.3" fill="none" />
<path d="M1080.4,711.6 C1080.2,712.3 1075.0,710.4 1073.7,711.6 C1072.3,712.9 1075.3,716.5 1074.6,716.8 C1074.0,717.1 1072.1,713.0 1070.7,713.1 C1069.3,713.3 1069.5,717.6 1068.7,717.4 C1068.0,717.2 1069.1,713.2 1067.5,712.2 C1065.9,711.2 1062.4,713.8 1062.1,713.1 C1061.7,712.5 1065.8,711.0 1065.9,709.4 C1066.1,707.8 1062.4,707.1 1062.6,706.4 C1062.8,705.7 1066.2,707.6 1066.9,706.4 C1067.7,705.1 1065.3,701.5 1066.0,701.2 C1066.6,700.9 1068.0,705.0 1069.9,704.9 C1071.8,704.7 1073.5,700.4 1074.3,700.6 C1075.0,700.8 1072.1,704.8 1073.1,705.8 C1074.1,706.8 1078.2,704.2 1078.5,704.9 C1078.9,705.5 1074.2,707.0 1074.7,708.6 C1075.1,710.2 1080.6,710.9 1080.4,711.6 Z" stroke-width="1.56" fill="none" />
<path d="M1103.1,731.2 L1113.7,751.3 L1113.7,751.3 C1114.2,751.6 1115.8,753.1 1116.9,752.8 C1118.0,752.5 1119.5,749.6 1120.5,749.4 C1121.4,749.2 1121.4,751.8 1122.6,751.5 C1123.8,751.3 1126.8,748.7 1127.7,748.2 L1127.7,746.5 L1120.1,727.0 Z" stroke-width="1.69" fill="#fff" />
<path d="M1120.5,749.4 C1120.7,749.1 1120.9,748.2 1121.8,747.7 C1122.6,747.2 1124.4,746.4 1125.4,746.5 C1126.3,746.5 1127.3,747.9 1127.7,748.2" stroke-width="1.3" fill="none" />
<path d="M1058.7,651.9 L1096.8,724.9 L1117.9,719.6 L1087.3,639.2 Z" stroke-width="1.69" fill="#fff" />
<path d="M1095.3,723.8 C1095.6,724.6 1096.2,728.5 1097.2,729.5 C1098.2,730.6 1100.9,731.7 1103.1,731.7 C1105.3,731.7 1111.4,730.4 1113.7,729.5 C1116.0,728.7 1119.7,726.7 1120.5,725.3 C1121.3,723.9 1120.5,719.1 1119.6,719.0 C1118.7,718.8 1115.9,722.9 1113.7,723.8 C1111.5,724.8 1105.6,726.1 1103.1,726.1 C1100.7,726.1 1096.3,724.1 1095.3,723.8 C1094.3,723.5 1095.0,723.1 1095.3,723.8 Z" stroke-width="1.69" fill="#fff" />
<path d="M1095.3,723.8 C1096.6,724.2 1100.1,726.3 1103.1,726.4 C1106.2,726.4 1111.0,725.3 1113.7,724.0 C1116.5,722.8 1118.7,719.8 1119.6,719.0" stroke-width="1.43" fill="none" />
<path d="M1053.4,643.4 C1053.7,644.2 1053.9,646.7 1055.5,648.3 C1057.1,649.8 1059.9,652.1 1062.9,652.9 C1065.9,653.8 1070.1,654.0 1073.5,653.3 C1076.8,652.6 1080.5,650.5 1083.0,648.7 C1085.6,646.8 1087.9,644.2 1088.7,642.3 C1089.5,640.5 1088.0,638.5 1087.9,637.7" stroke-width="1.56" fill="#fff" />
<path d="M1054.4,645.5 C1055.9,646.3 1059.9,649.4 1062.9,650.4 C1065.9,651.3 1069.3,651.8 1072.4,651.2 C1075.6,650.7 1079.5,648.8 1082.0,647.0 C1084.5,645.2 1086.5,641.7 1087.5,640.6" stroke-width="1.3" fill="none" />
<path d="M1042.8,633.9 C1044.7,632.3 1065.6,621.3 1068.2,620.1 C1070.8,618.9 1072.6,619.0 1073.5,619.0 C1074.4,619.1 1077.9,619.7 1078.8,620.5 C1079.7,621.3 1083.6,627.5 1084.1,628.6 C1084.6,629.6 1085.7,631.9 1084.5,633.4 C1083.4,635.0 1073.6,646.6 1070.3,647.0 C1067.0,647.4 1047.2,639.6 1044.9,638.5 C1042.6,637.4 1040.9,635.4 1042.8,633.9 Z" stroke-width="1.69" fill="#fff" />
<path d="M1042.8,633.9 C1044.6,634.4 1066.9,642.7 1069.7,642.3 C1072.4,642.0 1083.1,629.5 1084.1,628.6" stroke-width="1.43" fill="none" />
<line x1="1069.6875926004318" y1="642.3316259577531" x2="1070.3225669897981" y2="646.9881048131059" stroke-width="1.3"/>
<ellipse cx="1066.1" cy="630.7" rx="10.2" ry="6.3" transform="rotate(-8 1066.1 630.7)" stroke-width="1.3" fill="#fff"/>
<ellipse cx="1066.3" cy="631.2" rx="7.4" ry="4.4" transform="rotate(-8 1066.3 631.2)" stroke-width="1.2" fill="#fff"/>
<line x1="1057.6" y1="611.6" x2="1066" y2="631" stroke-width="1.56"/>
<path d="M959.7,367.8 L984.1,370.7 L992.9,376.3 L1001.0,384.5 L1000.4,390.1 L992.9,396.4 L991.6,403.9 L994.1,410.2 L1023.5,450.0 L1041.0,477.5 L1053.5,507.5 L1063.5,535.0 L1069.8,560.0 L1071.0,575.0 L1068.5,587.5 L1063.5,600.0 L1051.0,610.0 L1036.0,617.0 L1021.0,620.5 L1001.0,620.5 L997.2,615.0 L1004.8,608.8 L1011.0,597.5 L1008.5,582.5 L991.0,540.0 L986.0,515.0 L978.5,500.0 L971.0,480.0 L936.0,430.0 L914.8,404.0 L888.5,402.5 L886.0,398.0 L926.0,381.2 Z" fill="#fff" stroke="none"/>
<path d="M745.5,472.5 L772.5,461.2 L772.5,453.8 L781.2,447.5 L803.8,435.0 L855.0,415.8 L873.8,418.8 L915.0,403.8 L914.8,402.5 L936.0,392.5 L959.8,367.5 L991.0,376.2 L1001.0,385.0 L997.2,394.5 L991.0,405.0 L996.0,468.0 L1007.2,475.0 L1001.0,482.5 L978.5,493.8 L943.5,510.0 L914.8,521.2 L886.0,530.0 L905.0,520.0 L880.0,530.0 L865.0,538.8 L812.5,537.5 L791.2,533.8 L787.5,520.0 L763.8,527.5 L757.5,525.0 L755.0,500.0 Z" fill="#fff" stroke="none"/>
<path d="M772.5,461.2 L772.5,453.8 L781.2,447.5 L803.8,435.0 L855.0,415.8 L873.8,418.8" stroke-width="1.82" fill="none" />
<path d="M787.5,520.0 C787.7,520.7 790.0,532.9 791.2,533.8 C792.5,534.6 808.8,537.2 812.5,537.5 C816.2,537.8 862.4,538.7 865.0,538.8" stroke-width="1.82" fill="none" />
<path d="M865.0,538.8 C867.5,537.3 873.3,533.1 880.0,530.0 C886.7,526.9 897.5,522.9 905.0,520.0 C912.5,517.1 921.7,513.8 925.0,512.5" stroke-width="1.82" fill="none" />
<path d="M959.7,367.8 C962.5,368.1 980.2,369.7 984.1,370.7 C988.0,371.7 991.1,374.9 992.9,376.3 C994.7,377.7 998.8,381.5 999.8,382.6 C1000.8,383.7 1001.4,384.8 1001.4,385.7 C1001.5,386.6 1001.3,388.9 1000.4,390.1 C999.5,391.3 994.6,394.4 993.5,395.8 C992.5,397.1 991.4,399.8 991.4,401.4 C991.4,403.0 993.3,408.6 993.5,409.5" stroke-width="1.82" fill="none" />
<path d="M993.5,409.5 C998.5,416.3 1015.6,438.7 1023.5,450.0 C1031.4,461.3 1036.0,467.9 1041.0,477.5 C1046.0,487.1 1049.8,497.9 1053.5,507.5 C1057.2,517.1 1060.8,526.2 1063.5,535.0 C1066.2,543.8 1068.5,553.3 1069.8,560.0 C1071.0,566.7 1071.2,570.4 1071.0,575.0 C1070.8,579.6 1069.8,583.3 1068.5,587.5 C1067.2,591.7 1066.4,596.2 1063.5,600.0 C1060.6,603.8 1055.6,607.2 1051.0,610.0 C1046.4,612.8 1041.0,615.2 1036.0,617.0 C1031.0,618.8 1026.8,619.9 1021.0,620.5 C1015.2,621.1 1005.0,621.4 1001.0,620.5 C997.0,619.6 997.9,615.9 997.2,615.0" stroke-width="1.82" fill="none" />
<path d="M997.2,615.0 C998.5,614.0 1002.5,611.7 1004.8,608.8 C1007.0,605.8 1010.4,601.9 1011.0,597.5 C1011.6,593.1 1011.8,592.1 1008.5,582.5 C1005.2,572.9 993.9,547.1 991.0,540.0" stroke-width="1.82" fill="none" />
<path d="M745.4,472.6 L773.0,460.1" stroke-width="2.34" fill="none" />
<path d="M745.4,472.6 L748.5,489.0" stroke-width="1.82" fill="none" />
<path d="M748.5,489.0 C749.3,489.4 751.4,490.4 752.9,491.5 C754.5,492.5 756.7,493.6 758.0,495.2 C759.2,496.9 760.4,499.4 760.5,501.5 C760.6,503.6 759.8,506.4 758.6,507.8 C757.3,509.1 753.9,509.3 752.9,509.7" stroke-width="1.69" fill="none" />
<path d="M752.9,509.7 L757.3,525.3 L763.7,527.5 L788.1,517.8 L790.2,529.1" stroke-width="1.82" fill="none" />
<path d="M746.7,473.3 C749.1,474.8 756.8,478.6 761.1,482.7 C765.4,486.8 769.7,492.7 772.4,497.7 C775.1,502.8 776.8,508.6 777.4,512.8 C778.0,517.0 777.0,520.3 776.1,522.8 C775.3,525.4 773.0,527.1 772.4,528.0" stroke-width="1.56" fill="none" />
<path d="M748.5,473.3 C750.9,474.8 758.4,478.4 762.6,482.4 C766.8,486.5 771.2,492.5 773.9,497.5 C776.6,502.5 778.3,508.3 778.9,512.5 C779.5,516.8 778.4,520.3 777.6,522.8 C776.9,525.4 774.7,527.1 774.1,528.0" stroke-width="1.3" fill="none" />
<path d="M773.6,459.5 C775.7,460.6 782.0,462.9 786.2,466.4 C790.4,469.8 795.4,474.9 798.7,480.2 C802.1,485.4 805.0,493.1 806.2,497.7 C807.5,502.3 807.5,504.8 806.2,507.8 C805.0,510.7 800.0,514.0 798.7,515.3" stroke-width="1.69" fill="none" />
<path d="M775.9,459.1 C777.9,460.2 784.0,462.4 788.1,465.9 C792.2,469.3 797.2,474.4 800.5,479.7 C803.8,484.9 806.7,492.8 808.0,497.5 C809.3,502.2 809.1,504.8 808.0,508.0 C806.9,511.2 802.4,515.1 801.2,516.6" stroke-width="1.3" fill="none" />
<path d="M773.0,460.1 L772.4,455.1 L777.4,448.8 L802.5,434.4" stroke-width="2.08" fill="none" />
<path d="M774.9,457.0 L783.7,448.2 L803.7,435.6" stroke-width="1.43" fill="none" />
<path d="M783.7,448.2 C784.5,448.6 789.9,450.9 792.4,452.6 C795.0,454.3 806.1,462.0 808.8,465.1 C811.4,468.3 817.4,480.9 818.8,483.9 C820.2,486.9 821.8,492.8 822.6,495.2 C823.3,497.6 826.2,505.5 826.3,507.8 C826.4,510.0 824.2,516.2 823.8,517.8 C823.4,519.4 822.7,523.5 822.6,524.1" stroke-width="1.56" fill="none" />
<path d="M806.2,497.7 C807.1,500.2 810.6,508.6 811.3,512.8 C811.9,517.0 811.3,520.3 810.0,522.8 C808.8,525.4 804.8,527.1 803.7,528.0" stroke-width="1.43" fill="none" />
<path d="M818.2,483.9 L822.6,491.5" stroke-width="2.86" fill="none" />
<ellipse cx="826.943301555444" cy="523.452082288008" rx="3.0" ry="2.0" transform="rotate(-35 826.943301555444 523.452082288008)" stroke-width="1.43" fill="none"/>
<path d="M787.5,520.0 C787.9,521.2 789.3,525.2 790.0,527.5 C790.7,529.8 791.2,532.7 791.5,533.8" stroke-width="1.56" fill="none" />
<path d="M805.0,531.5 C804.2,531.2 802.1,529.1 800.0,529.5 C797.9,529.9 793.8,533.0 792.5,533.8" stroke-width="1.3" fill="none" />
<path d="M823.0,521.2 C821.2,523.2 815.5,531.3 812.5,533.0 C809.5,534.7 806.2,531.8 805.0,531.5" stroke-width="1.56" fill="none" />
<ellipse cx="805.5" cy="530.0" rx="1.6" ry="1.2" transform="rotate(0 805.5 530.0)" stroke-width="1.3" fill="none"/>
<path d="M815.0,431.2 L841.2,422.5 L842.5,425.0 L816.5,434.0 Z" stroke-width="1.3" fill="none" />
<path d="M855.0,415.8 L897.5,427.5 L938.8,413.8" stroke-width="1.56" fill="none" />
<path d="M873.8,418.8 L915.0,403.8" stroke-width="1.56" fill="none" />
<path d="M809.5,434.0 C812.9,435.9 823.7,441.2 830.0,445.5 C836.3,449.8 842.5,456.0 847.5,459.5 C852.5,463.0 856.2,464.9 860.0,466.5 C863.8,468.1 866.7,468.7 870.0,469.0 C873.3,469.3 876.2,469.4 880.0,468.5 C883.8,467.6 889.2,465.3 892.5,463.8 C895.8,462.2 896.7,461.1 900.0,459.0 C903.3,456.9 908.8,453.4 912.5,451.2 C916.2,449.1 920.8,447.1 922.5,446.2" stroke-width="1.56" fill="none" />
<path d="M898.0,461.5 C898.3,462.3 899.4,464.8 900.0,466.2 C900.6,467.7 901.2,469.4 901.5,470.0" stroke-width="1.3" fill="none" />
<path d="M897.0,470.5 L902.5,470.0" stroke-width="1.17" fill="none" />
<path d="M879.2,479.0 C879.7,478.9 887.0,475.6 887.5,477.5 C888.0,479.4 889.5,514.2 889.0,516.2 C888.5,518.3 878.0,520.9 877.5,519.0 C877.0,517.1 879.2,481.0 879.2,479.0 C879.3,477.0 878.8,479.1 879.2,479.0 Z" stroke-width="1.56" fill="none" />
<path d="M881.5,480.5 C881.7,480.5 885.2,478.1 885.5,479.8 C885.8,481.4 887.0,512.7 886.8,514.5 C886.5,516.3 879.9,516.4 879.5,516.5" stroke-width="1.17" fill="none" />
<path d="M870.0,536.2 C871.0,535.7 874.2,534.7 876.2,533.0 C878.2,531.3 880.7,528.2 882.0,526.2 C883.3,524.3 885.1,521.7 884.0,521.5 C882.9,521.3 876.9,524.4 875.5,525.0" stroke-width="1.43" fill="none" />
<path d="M865.0,538.5 C866.5,537.5 871.6,534.8 873.8,532.5 C875.9,530.2 877.3,526.2 878.0,525.0" stroke-width="1.17" fill="none" />
<path d="M893.8,480.5 C893.9,480.3 893.6,478.9 895.5,478.0 C897.4,477.1 918.0,468.9 922.5,467.0 C927.0,465.1 961.0,451.1 963.8,450.0" stroke-width="1.56" fill="none" />
<path d="M893.8,480.5 C893.8,481.6 894.9,495.5 895.0,497.5 C895.1,499.5 895.3,509.4 896.0,510.0 C896.7,510.6 902.7,508.0 905.0,507.0 C907.3,506.0 926.3,497.3 930.0,495.5 C933.7,493.7 958.0,481.5 960.0,480.5" stroke-width="1.56" fill="none" />
<path d="M920.5,450.5 C920.8,449.7 920.9,446.8 922.5,445.5 C924.1,444.2 924.4,442.7 930.0,442.5 C935.6,442.3 950.4,444.9 956.2,444.5 C962.1,444.1 962.3,440.5 965.0,440.0 C967.7,439.5 970.0,439.4 972.5,441.5 C975.0,443.6 976.9,448.4 980.0,452.5 C983.1,456.6 989.4,464.0 991.2,466.2" stroke-width="1.56" fill="none" />
<path d="M920.5,450.5 C921.0,451.5 921.8,455.0 923.8,456.2 C925.8,457.5 929.4,458.2 932.5,458.0 C935.6,457.8 937.7,457.0 942.5,455.0 C947.3,453.0 958.1,447.5 961.2,446.0" stroke-width="1.43" fill="none" />
<path d="M967.5,442.5 C968.5,444.6 971.2,450.5 973.8,455.0 C976.2,459.5 981.0,467.1 982.5,469.5" stroke-width="1.3" fill="none" />
<path d="M971.2,441.2 C972.1,441.2 973.3,437.1 976.2,441.0 C979.2,444.9 987.5,460.1 988.8,464.5 C990.0,468.9 984.6,467.0 983.8,467.5" stroke-width="1.3" fill="none" />
<path d="M907.2,518.0 C910.0,515.7 914.5,509.1 923.5,504.0 C932.5,498.9 949.8,492.1 961.0,487.5 C972.2,482.9 983.3,478.6 991.0,476.5 C998.7,474.4 1004.5,475.2 1007.2,475.0" stroke-width="1.69" fill="none" />
<path d="M914.8,521.5 C919.5,519.6 932.9,514.6 943.5,510.0 C954.1,505.4 968.9,498.6 978.5,494.0 C988.1,489.4 996.2,485.6 1001.0,482.5 C1005.8,479.4 1006.4,476.5 1007.5,475.2" stroke-width="1.69" fill="none" />
<path d="M893.5,480.0 C893.7,482.5 894.2,490.2 894.5,495.0 C894.8,499.8 894.9,506.7 895.0,509.0" stroke-width="1.56" fill="none" />
<path d="M895.0,509.0 L923.5,498.0" stroke-width="1.43" fill="none" />
<path d="M927.2,512.0 L938.5,519.0 L945.0,509.5" stroke-width="1.56" fill="none" />
<path d="M945.0,509.5 L966.0,494.5 L947.2,503.5 L943.5,510.0" stroke-width="1.3" fill="none" />
<path d="M932.2,515.5 L940.5,520.0" stroke-width="1.3" fill="none" />
<path d="M861.0,539.0 C865.2,537.5 878.1,533.5 886.0,530.0 C893.9,526.5 904.8,520.0 908.5,518.0" stroke-width="1.69" fill="none" />
<path d="M887.5,395.4 C890.5,394.5 898.0,392.7 905.1,390.1 C912.2,387.6 922.6,383.2 930.2,380.1 C937.7,376.9 945.3,373.3 950.2,371.3 C955.2,369.2 958.1,368.4 959.7,367.8" stroke-width="1.82" fill="none" />
<ellipse cx="889.0316106372303" cy="397.882589061716" rx="3.4" ry="2.9" transform="rotate(0 889.0316106372303 397.882589061716)" stroke-width="1.56" fill="#fff"/>
<path d="M892.5,396.4 C895.7,395.8 904.0,394.8 911.4,392.6 C918.7,390.4 929.1,386.3 936.4,383.2 C943.8,380.1 950.2,376.1 955.3,373.8 C960.3,371.5 964.1,369.6 966.6,369.4 C969.0,369.2 969.7,371.2 969.7,372.5 C969.7,373.9 968.5,375.8 966.6,377.6 C964.6,379.3 959.2,382.3 957.8,383.2" stroke-width="1.43" fill="none" />
<path d="M892.5,401.4 C895.7,401.2 905.5,401.4 911.4,400.1 C917.2,398.9 922.9,396.1 927.7,393.9 C932.5,391.7 936.4,388.6 940.2,387.0 C944.0,385.3 947.5,384.3 950.2,383.8 C953.0,383.4 955.5,384.4 956.5,384.5" stroke-width="1.69" fill="none" />
<path d="M889.0,400.8 L892.5,401.4" stroke-width="1.56" fill="none" />
<path d="M956.5,384.5 L963.4,396.4 L961.8,401.6 L953.8,390.9 L956.5,384.5" stroke-width="1.43" fill="none" />
<path d="M935.2,396.4 C936.9,395.5 942.1,391.8 945.2,390.9 C948.3,389.9 952.3,390.9 953.8,390.9" stroke-width="1.43" fill="none" />
<path d="M963.4,396.4 L990.4,384.5 L997.3,390.1" stroke-width="1.43" fill="none" />
<ellipse cx="906.9693928750627" cy="389.8544907175113" rx="1.6" ry="1.3" transform="rotate(0 906.9693928750627 389.8544907175113)" stroke-width="1.56" fill="none"/>
<ellipse cx="915.7501254390367" cy="386.09131961866535" rx="1.6" ry="1.3" transform="rotate(0 915.7501254390367 386.09131961866535)" stroke-width="1.56" fill="none"/>
<ellipse cx="924.5308580030105" cy="381.95183140993475" rx="1.6" ry="1.3" transform="rotate(0 924.5308580030105 381.95183140993475)" stroke-width="1.56" fill="none"/>
<path d="M880.0,421.5 L896.3,427.7 L934.2,413.2" stroke-width="1.56" fill="none" />
<path d="M913.2,404.2 C914.1,404.5 934.8,412.2 935.8,413.3 C936.9,414.4 939.8,430.2 940.0,430.9" stroke-width="1.69" fill="none" />
<path d="M917.6,403.0 C918.5,403.3 939.1,409.8 940.2,410.8 C941.3,411.8 944.1,428.0 944.2,428.7" stroke-width="1.43" fill="none" />
<path d="M940.0,430.9 C940.3,431.0 941.5,432.1 942.2,431.8 C942.9,431.4 943.9,429.2 944.2,428.7" stroke-width="1.43" fill="none" />
<path d="M923.0,400.8 C923.9,401.1 944.5,409.0 945.6,409.9 C946.7,410.9 949.6,424.1 949.7,424.7" stroke-width="1.69" fill="none" />
<path d="M927.4,399.6 C928.3,399.9 948.9,406.5 950.0,407.4 C951.1,408.3 953.8,422.0 954.0,422.6" stroke-width="1.43" fill="none" />
<path d="M949.7,424.7 C950.1,424.9 951.3,426.0 952.0,425.6 C952.7,425.2 953.7,423.1 954.0,422.6" stroke-width="1.43" fill="none" />
<path d="M932.3,397.6 C933.2,398.0 953.8,405.9 954.9,406.8 C956.0,407.6 958.9,418.3 959.0,418.8" stroke-width="1.69" fill="none" />
<path d="M936.7,396.5 C937.6,396.8 958.2,403.5 959.3,404.3 C960.3,405.1 963.1,416.2 963.3,416.7" stroke-width="1.43" fill="none" />
<path d="M959.0,418.8 C959.4,419.0 960.6,420.1 961.3,419.7 C962.0,419.4 963.0,417.2 963.3,416.7" stroke-width="1.43" fill="none" />
<path d="M941.5,395.8 L960.3,402.6 L962.2,415.2" stroke-width="1.56" fill="none" />
<path d="M964.0,403.9 L968.4,402.0 L969.3,412.1 L965.3,414.2 Z" stroke-width="1.69" fill="none" />
<path d="M972.2,400.1 L976.6,398.3 L977.6,407.0 L973.5,409.2 Z" stroke-width="1.69" fill="none" />
<path d="M898.8,458.0 C901.6,456.2 936.1,434.4 940.2,431.8 C944.3,429.2 957.8,420.5 960.3,419.0 C962.8,417.4 975.6,410.4 977.8,408.9 C980.1,407.4 992.5,397.0 993.5,396.1" stroke-width="1.56" fill="none" />
<path d="M991.0,467.5 C994.3,468.2 1004.3,467.3 1011.0,471.5 C1017.7,475.7 1025.2,484.0 1031.0,492.5 C1036.8,501.0 1041.4,511.7 1046.0,522.5 C1050.6,533.3 1056.0,547.9 1058.5,557.5 C1061.0,567.1 1060.6,574.6 1061.0,580.0 C1061.4,585.4 1061.0,588.3 1061.0,590.0" stroke-width="1.69" fill="none" />
<path d="M996.0,467.5 C1000.2,469.7 1013.5,473.0 1021.0,480.5 C1028.5,488.0 1035.9,501.8 1041.0,512.5 C1046.1,523.2 1048.6,534.6 1051.5,545.0 C1054.4,555.4 1057.3,570.0 1058.5,575.0" stroke-width="2.47" fill="none" />
<path d="M1056.0,560.0 C1056.8,559.4 1058.7,556.3 1061.0,556.5 C1063.3,556.7 1068.5,560.2 1070.0,561.0" stroke-width="1.43" fill="none" />
<path d="M997.2,615.0 C998.7,614.2 1000.0,612.1 1006.0,610.0 C1012.0,607.9 1026.6,604.8 1033.5,602.5 C1040.4,600.2 1043.0,598.8 1047.2,596.2 C1051.5,593.7 1057.0,588.5 1059.0,587.0" stroke-width="1.56" fill="none" />
<path d="M1041.0,614.0 C1042.8,613.3 1047.8,612.3 1051.5,610.0 C1055.2,607.7 1061.5,601.7 1063.5,600.0" stroke-width="1.43" fill="none" />
<path d="M961.0,445.5 C962.2,444.6 966.2,440.7 968.5,440.0 C970.8,439.3 971.2,437.3 975.0,441.5 C978.8,445.7 990.0,460.4 991.5,465.0 C993.0,469.6 987.6,471.9 984.0,469.0 C980.4,466.1 972.3,451.1 970.0,447.5" stroke-width="1.43" fill="none" />
<path d="M971.0,444.0 C971.8,443.8 973.1,439.5 976.0,442.8 C978.9,446.0 987.0,459.6 988.5,463.5 C990.0,467.4 985.6,465.8 985.0,466.2" stroke-width="1.17" fill="none" />
<path d="M978.5,500.0 C979.8,502.6 983.5,510.1 986.0,515.5 C988.5,520.9 992.2,529.7 993.5,532.5" stroke-width="1.56" fill="none" />
<path d="M993.5,532.5 L986.0,531.0 L977.2,535.0 L988.5,540.0 L1008.5,537.5 L990.5,539.0" stroke-width="1.43" fill="none" />
<ellipse cx="1015.5" cy="509.0" rx="17.5" ry="14.5" transform="rotate(-30 1015.5 509.0)" stroke-width="1.69" fill="#fff"/>
<ellipse cx="1019.5" cy="507.0" rx="13" ry="12" transform="rotate(-25 1019.5 507.0)" stroke-width="2.6" fill="#fff"/>
<ellipse cx="1020.0" cy="506.75" rx="10.8" ry="10" transform="rotate(-25 1020.0 506.75)" stroke-width="1.3" fill="#fff"/>
<ellipse cx="174.25" cy="144.5" rx="14.6" ry="11.9" fill="#fff" stroke-width="1.3"/>
<text x="175.25" y="149.3" text-anchor="middle">1</text>
<ellipse cx="262" cy="106" rx="14.6" ry="11.9" fill="#fff" stroke-width="1.3"/>
<text x="263" y="110.8" text-anchor="middle">2</text>
<ellipse cx="347" cy="68.75" rx="14.6" ry="11.9" fill="#fff" stroke-width="1.3"/>
<text x="348" y="73.55" text-anchor="middle">3</text>
<ellipse cx="401.25" cy="45" rx="14.6" ry="11.9" fill="#fff" stroke-width="1.3"/>
<text x="402.25" y="49.8" text-anchor="middle">4</text>
<ellipse cx="49.5" cy="460.5" rx="14.6" ry="11.9" fill="#fff" stroke-width="1.3"/>
<text x="50.5" y="465.3" text-anchor="middle">5</text>
<ellipse cx="124.25" cy="360.5" rx="14.6" ry="11.9" fill="#fff" stroke-width="1.3"/>
<text x="125.25" y="365.3" text-anchor="middle">6</text>
<ellipse cx="176.75" cy="404.25" rx="14.6" ry="11.9" fill="#fff" stroke-width="1.3"/>
<text x="177.75" y="409.05" text-anchor="middle">7</text>
<ellipse cx="224" cy="383.75" rx="14.6" ry="11.9" fill="#fff" stroke-width="1.3"/>
<text x="225" y="388.55" text-anchor="middle">8</text>
<ellipse cx="265" cy="365.75" rx="14.6" ry="11.9" fill="#fff" stroke-width="1.3"/>
<text x="266" y="370.55" text-anchor="middle">9</text>
<ellipse cx="344.5" cy="331.25" rx="14.6" ry="11.9" fill="#fff" stroke-width="1.3"/>
<text x="345.5" y="336.05" text-anchor="middle">10</text>
<ellipse cx="413.25" cy="300.5" rx="14.6" ry="11.9" fill="#fff" stroke-width="1.3"/>
<text x="414.25" y="305.3" text-anchor="middle">11</text>
<ellipse cx="475.75" cy="273" rx="14.6" ry="11.9" fill="#fff" stroke-width="1.3"/>
<text x="476.75" y="277.8" text-anchor="middle">12</text>
<ellipse cx="521.25" cy="251.25" rx="14.6" ry="11.9" fill="#fff" stroke-width="1.3"/>
<text x="522.25" y="256.05" text-anchor="middle">13</text>
<ellipse cx="460" cy="422" rx="14.6" ry="11.9" fill="#fff" stroke-width="1.3"/>
<text x="461" y="426.8" text-anchor="middle">14</text>
<ellipse cx="567.5" cy="372.5" rx="14.6" ry="11.9" fill="#fff" stroke-width="1.3"/>
<text x="568.5" y="377.3" text-anchor="middle">15</text>
<ellipse cx="729.5" cy="302" rx="14.6" ry="11.9" fill="#fff" stroke-width="1.3"/>
<text x="730.5" y="306.8" text-anchor="middle">16</text>
<ellipse cx="760.5" cy="63.25" rx="14.6" ry="11.9" fill="#fff" stroke-width="1.3"/>
<text x="761.5" y="68.05" text-anchor="middle">17</text>
<ellipse cx="760.75" cy="118" rx="14.6" ry="11.9" fill="#fff" stroke-width="1.3"/>
<text x="761.75" y="122.8" text-anchor="middle">18</text>
<ellipse cx="765" cy="209.25" rx="14.6" ry="11.9" fill="#fff" stroke-width="1.3"/>
<text x="766" y="214.05" text-anchor="middle">19</text>
<ellipse cx="837" cy="255" rx="14.6" ry="11.9" fill="#fff" stroke-width="1.3"/>
<text x="838" y="259.8" text-anchor="middle">20</text>
<ellipse cx="937.5" cy="318" rx="14.6" ry="11.9" fill="#fff" stroke-width="1.3"/>
<text x="938.5" y="322.8" text-anchor="middle">21</text>
<ellipse cx="1070" cy="402.5" rx="14.6" ry="11.9" fill="#fff" stroke-width="1.3"/>
<text x="1071" y="407.3" text-anchor="middle">22</text>
<ellipse cx="1076.5" cy="753" rx="14.6" ry="11.9" fill="#fff" stroke-width="1.3"/>
<text x="1077.5" y="757.8" text-anchor="middle">23</text>
<ellipse cx="1011" cy="718.75" rx="14.6" ry="11.9" fill="#fff" stroke-width="1.3"/>
<text x="1012" y="723.55" text-anchor="middle">24</text>
<ellipse cx="968.5" cy="705" rx="14.6" ry="11.9" fill="#fff" stroke-width="1.3"/>
<text x="969.5" y="709.8" text-anchor="middle">25</text>
<ellipse cx="916.5" cy="681.75" rx="14.6" ry="11.9" fill="#fff" stroke-width="1.3"/>
<text x="917.5" y="686.55" text-anchor="middle">26</text>
<ellipse cx="872.5" cy="661.25" rx="14.6" ry="11.9" fill="#fff" stroke-width="1.3"/>
<text x="873.5" y="666.05" text-anchor="middle">27</text>
<ellipse cx="740.5" cy="602.5" rx="14.6" ry="11.9" fill="#fff" stroke-width="1.3"/>
<text x="741.5" y="607.3" text-anchor="middle">28</text>
</svg></body></html>
